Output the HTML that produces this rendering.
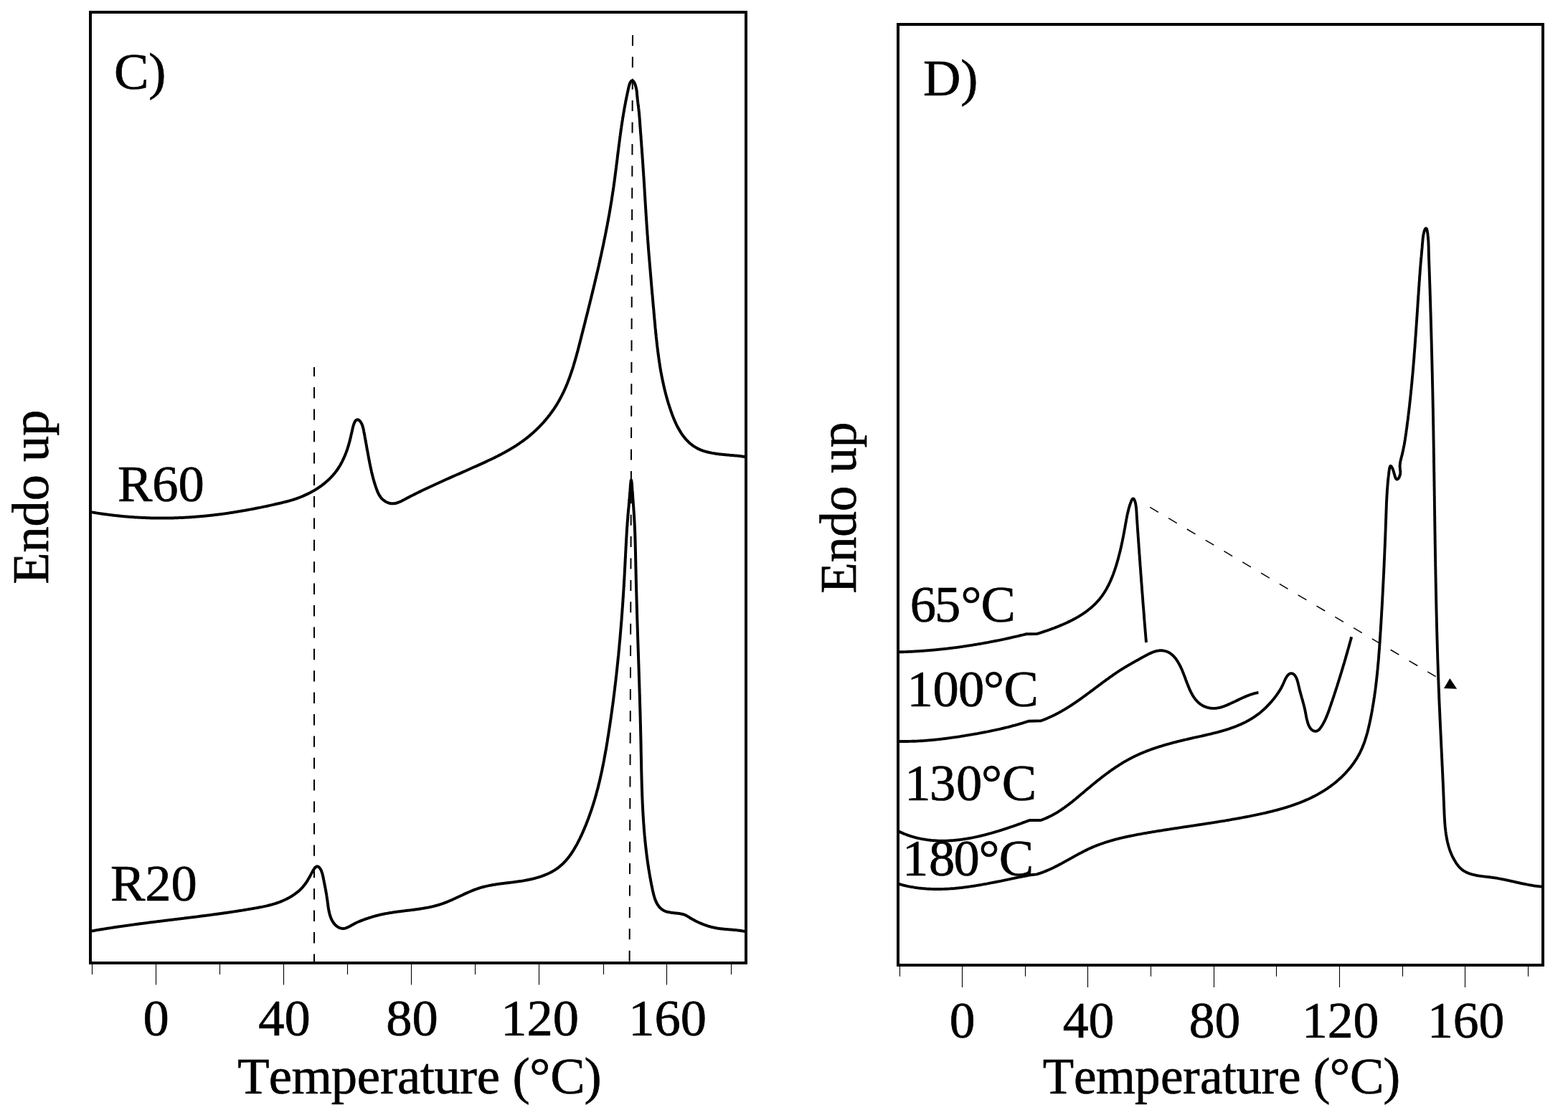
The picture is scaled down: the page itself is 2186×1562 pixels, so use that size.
<!DOCTYPE html>
<html><head><meta charset="utf-8"><title>DSC thermograms C) and D)</title>
<style>
html,body{margin:0;padding:0;background:#fff;}
svg{display:block;}
text{font-family:'Liberation Serif','Times New Roman',serif;fill:#000;stroke:#000;stroke-width:0.7px;font-kerning:none;}
</style></head>
<body>
<svg xmlns="http://www.w3.org/2000/svg" width="2186" height="1562" viewBox="0 0 2186 1562">
<rect width="2186" height="1562" fill="#fff"/>
<rect x='126' y='17' width='914' height='1326' fill='none' stroke='#000' stroke-width='4'/>
<rect x='1252' y='34' width='899' height='1312' fill='none' stroke='#000' stroke-width='4'/>
<path d='M128.5,1345V1359 M306.5,1345V1359 M484.5,1345V1359 M662.5,1345V1359 M841.5,1345V1359 M1019.5,1345V1359 M217.5,1345V1373.6 M395.5,1345V1373.6 M573.5,1345V1373.6 M751.5,1345V1373.6 M929.5,1345V1373.6 M1254.5,1348V1361.8 M1429.5,1348V1361.8 M1604.5,1348V1361.8 M1779.5,1348V1361.8 M1955.5,1348V1361.8 M2130.5,1348V1361.8 M1341.5,1348V1376.9 M1516.5,1348V1376.9 M1692.5,1348V1376.9 M1867.5,1348V1376.9 M2042.5,1348V1376.9' stroke='#000' stroke-width='1.1' fill='none'/>
<path d='M438,512V1341' stroke='#000' stroke-width='2' stroke-dasharray='15.4 15' stroke-dashoffset='2.4' fill='none'/>
<path d='M882,48.9L877.6,1341' stroke='#000' stroke-width='2' stroke-dasharray='15 15.4' fill='none'/>
<path d='M126.0,714.0L127.2,714.2 128.4,714.4 129.6,714.6 130.8,714.8 132.0,715.0 133.2,715.2 134.3,715.4 135.5,715.6 136.7,715.8 137.9,715.9 139.1,716.1 140.3,716.3 141.5,716.5 142.7,716.7 143.9,716.8 145.1,717.0 146.3,717.2 147.5,717.3 148.7,717.5 149.9,717.6 151.1,717.8 152.2,717.9 153.4,718.1 154.6,718.2 155.8,718.4 157.0,718.5 158.2,718.7 159.4,718.8 160.6,718.9 161.8,719.1 163.0,719.2 164.2,719.3 165.4,719.5 166.6,719.6 167.8,719.7 169.0,719.8 170.2,719.9 171.3,720.1 172.5,720.2 173.7,720.3 174.9,720.4 176.1,720.5 177.3,720.6 178.5,720.7 179.7,720.8 180.9,720.9 182.1,721.0 183.3,721.0 184.5,721.1 185.7,721.2 186.9,721.3 188.1,721.4 189.3,721.4 190.5,721.5 191.7,721.6 192.9,721.7 194.0,721.7 195.2,721.8 196.4,721.8 197.6,721.9 198.8,722.0 200.0,722.0 201.2,722.1 202.4,722.1 203.6,722.2 204.8,722.2 206.0,722.2 207.2,722.3 208.4,722.3 209.6,722.4 210.8,722.4 212.0,722.4 213.2,722.4 214.4,722.5 215.6,722.5 216.8,722.5 218.0,722.5 219.2,722.5 220.3,722.6 221.5,722.6 222.7,722.6 223.9,722.6 225.1,722.6 226.3,722.6 227.5,722.6 228.7,722.6 229.9,722.6 231.1,722.6 232.3,722.5 233.5,722.5 234.7,722.5 235.9,722.5 237.1,722.5 238.3,722.4 239.5,722.4 240.7,722.4 241.9,722.4 243.1,722.3 244.3,722.3 245.5,722.3 246.7,722.2 247.9,722.2 249.1,722.1 250.3,722.1 251.5,722.0 252.6,722.0 253.8,721.9 255.0,721.9 256.2,721.8 257.4,721.7 258.6,721.7 259.8,721.6 261.0,721.5 262.2,721.5 263.4,721.4 264.6,721.3 265.8,721.2 267.0,721.2 268.2,721.1 269.4,721.0 270.6,720.9 271.8,720.8 273.0,720.7 274.2,720.6 275.4,720.5 276.6,720.4 277.8,720.3 279.0,720.2 280.2,720.1 281.4,720.0 282.6,719.9 283.8,719.8 285.0,719.7 286.2,719.6 287.4,719.4 288.6,719.3 289.8,719.2 291.0,719.1 292.2,718.9 293.4,718.8 294.5,718.7 295.7,718.5 296.9,718.4 298.1,718.3 299.3,718.1 300.5,718.0 301.7,717.8 302.9,717.7 304.1,717.5 305.3,717.4 306.5,717.2 307.7,717.1 308.9,716.9 310.1,716.8 311.3,716.6 312.5,716.4 313.7,716.3 314.9,716.1 316.1,715.9 317.3,715.8 318.5,715.6 319.7,715.4 320.9,715.2 322.0,715.0 323.2,714.9 324.4,714.7 325.6,714.5 326.8,714.3 328.0,714.1 329.2,713.9 330.4,713.7 331.6,713.5 332.8,713.3 334.0,713.1 335.1,712.9 336.3,712.7 337.5,712.5 338.7,712.3 339.9,712.1 341.1,711.9 342.3,711.7 343.5,711.5 344.6,711.3 345.8,711.1 347.0,710.8 348.2,710.6 349.4,710.4 350.6,710.2 351.7,709.9 352.9,709.7 354.1,709.5 355.3,709.3 356.5,709.0 357.6,708.8 358.8,708.6 360.0,708.3 361.2,708.1 362.3,707.9 363.5,707.6 364.7,707.4 365.9,707.1 367.0,706.9 368.2,706.6 369.4,706.4 370.6,706.2 371.7,705.9 372.9,705.7 374.1,705.4 375.2,705.1 376.4,704.9 377.6,704.6 378.7,704.4 379.9,704.1 381.1,703.9 382.2,703.6 383.4,703.3 384.5,703.1 385.7,702.8 386.9,702.5 388.0,702.3 389.2,702.0 390.3,701.7 391.5,701.5 392.7,701.2 393.8,700.9 395.0,700.6 396.1,700.3 397.3,700.1 398.4,699.8 399.6,699.5 400.7,699.2 401.9,698.9 403.0,698.6 404.1,698.2 405.3,697.9 406.4,697.6 407.6,697.2 408.7,696.9 409.9,696.5 411.0,696.1 412.1,695.8 413.3,695.4 414.4,695.0 415.5,694.5 416.7,694.1 417.8,693.7 418.9,693.3 420.0,692.8 421.1,692.4 422.3,691.9 423.4,691.4 424.5,690.9 425.6,690.4 426.7,689.9 427.8,689.4 428.9,688.9 429.9,688.4 431.0,687.8 432.1,687.3 433.2,686.7 434.2,686.1 435.3,685.5 436.4,685.0 437.4,684.4 438.4,683.7 439.5,683.1 440.5,682.5 441.5,681.9 442.5,681.2 443.6,680.5 444.6,679.9 445.5,679.2 446.5,678.5 447.5,677.8 448.5,677.1 449.4,676.4 450.4,675.6 451.3,674.9 452.3,674.1 453.2,673.4 454.1,672.6 455.0,671.8 455.9,671.0 456.8,670.2 457.7,669.4 458.6,668.6 459.4,667.8 460.3,666.9 461.1,666.1 461.9,665.2 462.8,664.3 463.6,663.4 464.4,662.6 465.1,661.6 465.9,660.7 466.7,659.8 467.4,658.9 468.1,657.9 468.9,657.0 469.6,656.0 470.3,655.0 471.0,654.0 471.6,653.0 472.3,652.0 472.9,651.0 473.5,650.0 474.2,648.9 474.8,647.9 475.4,646.8 475.9,645.7 476.5,644.7 477.1,643.6 477.6,642.5 478.1,641.4 478.6,640.3 479.2,639.2 479.6,638.1 480.1,637.0 480.6,635.9 481.1,634.8 481.5,633.7 481.9,632.6 482.4,631.5 482.8,630.4 483.2,629.3 483.6,628.1 484.0,627.0 484.4,625.9 484.7,624.8 485.1,623.7 485.4,622.6 485.8,621.5 486.1,620.4 486.4,619.3 486.7,618.2 487.0,617.1 487.3,616.0 487.6,614.9 487.9,613.8 488.1,612.7 488.4,611.5 488.7,610.4 489.0,609.2 489.2,608.0 489.5,606.8 489.8,605.6 490.1,604.3 490.4,603.0 490.7,601.7 491.0,600.4 491.3,599.0 491.6,597.6 491.9,596.2 492.3,594.7 492.7,593.3 493.2,591.9 493.7,590.5 494.3,589.2 494.8,588.0 495.5,587.0 496.2,586.2 496.9,585.6 497.6,585.4 498.4,585.3 499.2,585.4 500.0,585.8 500.8,586.3 501.5,586.9 502.2,587.6 502.8,588.5 503.4,589.5 504.0,590.5 504.5,591.6 505.0,592.8 505.4,594.0 505.8,595.3 506.1,596.6 506.5,597.9 506.8,599.3 507.1,600.7 507.3,602.1 507.6,603.5 507.9,604.8 508.1,606.2 508.4,607.5 508.6,608.8 508.8,610.1 509.1,611.4 509.3,612.7 509.5,613.9 509.7,615.1 510.0,616.3 510.2,617.6 510.4,618.7 510.6,619.9 510.8,621.1 511.0,622.2 511.2,623.4 511.4,624.5 511.6,625.7 511.8,626.8 512.0,627.9 512.3,629.0 512.5,630.2 512.7,631.3 512.9,632.4 513.1,633.5 513.3,634.6 513.5,635.7 513.7,636.8 513.9,637.9 514.1,639.1 514.3,640.2 514.5,641.3 514.8,642.5 515.0,643.6 515.2,644.7 515.4,645.9 515.7,647.1 515.9,648.2 516.1,649.4 516.4,650.6 516.6,651.8 516.9,652.9 517.1,654.1 517.4,655.3 517.7,656.5 517.9,657.7 518.2,658.9 518.5,660.1 518.8,661.3 519.1,662.5 519.4,663.7 519.7,664.9 520.0,666.1 520.3,667.3 520.6,668.4 521.0,669.6 521.3,670.8 521.6,672.0 522.0,673.2 522.4,674.4 522.7,675.5 523.1,676.7 523.5,677.9 523.9,679.0 524.3,680.2 524.7,681.3 525.1,682.4 525.5,683.6 526.0,684.7 526.4,685.8 526.9,686.9 527.4,688.0 527.9,689.0 528.5,690.1 529.1,691.1 529.7,692.1 530.4,693.0 531.1,693.9 531.8,694.8 532.6,695.7 533.4,696.5 534.4,697.3 535.3,698.0 536.3,698.7 537.3,699.4 538.4,700.0 539.5,700.5 540.6,701.0 541.8,701.4 542.9,701.7 544.1,702.0 545.3,702.2 546.4,702.3 547.6,702.3 548.7,702.3 549.9,702.1 551.0,702.0 552.2,701.7 553.3,701.4 554.4,701.0 555.5,700.6 556.6,700.2 557.8,699.7 558.9,699.2 560.0,698.7 561.1,698.1 562.2,697.5 563.3,697.0 564.3,696.4 565.4,695.8 566.5,695.2 567.6,694.6 568.7,694.1 569.8,693.5 570.9,692.9 572.0,692.4 573.0,691.8 574.1,691.3 575.2,690.7 576.3,690.2 577.4,689.6 578.4,689.1 579.5,688.6 580.6,688.0 581.7,687.5 582.8,687.0 583.8,686.4 584.9,685.9 586.0,685.4 587.1,684.9 588.1,684.3 589.2,683.8 590.3,683.3 591.4,682.8 592.5,682.3 593.5,681.8 594.6,681.3 595.7,680.8 596.8,680.2 597.9,679.7 598.9,679.2 600.0,678.7 601.1,678.2 602.2,677.7 603.3,677.2 604.4,676.7 605.4,676.2 606.5,675.7 607.6,675.2 608.7,674.7 609.8,674.2 610.9,673.7 611.9,673.2 613.0,672.7 614.1,672.3 615.2,671.8 616.3,671.3 617.4,670.8 618.5,670.3 619.5,669.8 620.6,669.3 621.7,668.8 622.8,668.3 623.9,667.8 625.0,667.4 626.1,666.9 627.2,666.4 628.3,665.9 629.4,665.4 630.4,664.9 631.5,664.4 632.6,664.0 633.7,663.5 634.8,663.0 635.9,662.5 637.0,662.0 638.1,661.5 639.2,661.1 640.3,660.6 641.4,660.1 642.5,659.6 643.6,659.1 644.7,658.6 645.8,658.1 646.9,657.7 648.0,657.2 649.1,656.7 650.2,656.2 651.2,655.7 652.3,655.2 653.4,654.7 654.5,654.3 655.6,653.8 656.7,653.3 657.8,652.8 658.9,652.3 660.0,651.8 661.1,651.3 662.2,650.8 663.4,650.3 664.5,649.9 665.6,649.4 666.7,648.9 667.8,648.4 668.9,647.9 670.0,647.4 671.1,646.9 672.2,646.4 673.3,645.9 674.4,645.4 675.5,644.9 676.6,644.4 677.7,643.9 678.7,643.3 679.8,642.8 680.9,642.3 682.0,641.8 683.1,641.3 684.2,640.8 685.3,640.2 686.4,639.7 687.5,639.2 688.6,638.7 689.7,638.1 690.7,637.6 691.8,637.0 692.9,636.5 694.0,636.0 695.0,635.4 696.1,634.9 697.2,634.3 698.3,633.7 699.3,633.2 700.4,632.6 701.5,632.0 702.5,631.5 703.6,630.9 704.6,630.3 705.7,629.7 706.7,629.1 707.8,628.5 708.8,627.9 709.9,627.3 710.9,626.7 711.9,626.1 713.0,625.5 714.0,624.9 715.0,624.3 716.0,623.6 717.0,623.0 718.1,622.4 719.1,621.7 720.1,621.1 721.1,620.4 722.1,619.7 723.1,619.1 724.1,618.4 725.1,617.7 726.0,617.0 727.0,616.4 728.0,615.7 729.0,615.0 729.9,614.3 730.9,613.5 731.8,612.8 732.8,612.1 733.7,611.4 734.7,610.6 735.6,609.9 736.6,609.1 737.5,608.4 738.4,607.6 739.3,606.8 740.2,606.1 741.1,605.3 742.0,604.5 742.9,603.7 743.8,602.9 744.7,602.1 745.6,601.3 746.5,600.5 747.4,599.7 748.2,598.8 749.1,598.0 749.9,597.2 750.8,596.3 751.6,595.5 752.5,594.6 753.3,593.7 754.1,592.9 754.9,592.0 755.8,591.1 756.6,590.2 757.4,589.4 758.2,588.5 758.9,587.6 759.7,586.7 760.5,585.8 761.3,584.8 762.0,583.9 762.8,583.0 763.6,582.1 764.3,581.1 765.0,580.2 765.8,579.3 766.5,578.3 767.2,577.4 767.9,576.4 768.6,575.4 769.3,574.5 770.0,573.5 770.7,572.5 771.4,571.6 772.1,570.6 772.7,569.6 773.4,568.6 774.0,567.6 774.7,566.6 775.3,565.6 776.0,564.6 776.6,563.6 777.2,562.5 777.8,561.5 778.4,560.5 779.0,559.5 779.6,558.4 780.2,557.4 780.7,556.4 781.3,555.3 781.8,554.3 782.4,553.2 782.9,552.2 783.5,551.1 784.0,550.0 784.5,549.0 785.1,547.9 785.6,546.8 786.1,545.8 786.6,544.7 787.1,543.6 787.6,542.5 788.0,541.4 788.5,540.3 789.0,539.3 789.4,538.2 789.9,537.1 790.4,536.0 790.8,534.9 791.3,533.7 791.7,532.6 792.1,531.5 792.6,530.4 793.0,529.3 793.4,528.2 793.8,527.1 794.2,525.9 794.6,524.8 795.0,523.7 795.4,522.5 795.8,521.4 796.2,520.3 796.6,519.1 797.0,518.0 797.3,516.9 797.7,515.7 798.1,514.6 798.5,513.4 798.8,512.3 799.2,511.1 799.5,510.0 799.9,508.8 800.2,507.7 800.6,506.5 800.9,505.4 801.3,504.2 801.6,503.1 801.9,501.9 802.3,500.7 802.6,499.6 802.9,498.4 803.3,497.2 803.6,496.1 803.9,494.9 804.2,493.7 804.5,492.6 804.9,491.4 805.2,490.2 805.5,489.1 805.8,487.9 806.1,486.7 806.4,485.6 806.7,484.4 807.0,483.2 807.3,482.0 807.6,480.9 807.9,479.7 808.2,478.5 808.5,477.4 808.8,476.2 809.1,475.0 809.4,473.8 809.7,472.7 810.0,471.5 810.3,470.3 810.6,469.1 810.9,468.0 811.2,466.8 811.5,465.6 811.8,464.5 812.1,463.3 812.4,462.1 812.7,460.9 813.0,459.8 813.3,458.6 813.6,457.4 813.9,456.3 814.2,455.1 814.5,453.9 814.8,452.8 815.1,451.6 815.4,450.4 815.7,449.3 815.9,448.1 816.2,446.9 816.5,445.8 816.8,444.6 817.1,443.4 817.4,442.3 817.7,441.1 818.0,439.9 818.3,438.8 818.6,437.6 818.9,436.4 819.2,435.3 819.5,434.1 819.8,432.9 820.0,431.8 820.3,430.6 820.6,429.4 820.9,428.3 821.2,427.1 821.5,425.9 821.8,424.8 822.1,423.6 822.4,422.4 822.6,421.3 822.9,420.1 823.2,419.0 823.5,417.8 823.8,416.6 824.1,415.5 824.4,414.3 824.6,413.1 824.9,412.0 825.2,410.8 825.5,409.6 825.8,408.5 826.1,407.3 826.3,406.2 826.6,405.0 826.9,403.8 827.2,402.7 827.5,401.5 827.7,400.3 828.0,399.2 828.3,398.0 828.6,396.8 828.9,395.7 829.1,394.5 829.4,393.4 829.7,392.2 830.0,391.0 830.2,389.9 830.5,388.7 830.8,387.5 831.1,386.4 831.3,385.2 831.6,384.0 831.9,382.9 832.1,381.7 832.4,380.6 832.7,379.4 833.0,378.2 833.2,377.1 833.5,375.9 833.8,374.7 834.0,373.6 834.3,372.4 834.6,371.2 834.8,370.1 835.1,368.9 835.3,367.7 835.6,366.6 835.9,365.4 836.1,364.2 836.4,363.1 836.6,361.9 836.9,360.8 837.2,359.6 837.4,358.4 837.7,357.3 837.9,356.1 838.2,354.9 838.4,353.7 838.7,352.6 838.9,351.4 839.2,350.2 839.4,349.1 839.7,347.9 839.9,346.7 840.2,345.6 840.4,344.4 840.7,343.2 840.9,342.1 841.2,340.9 841.4,339.7 841.7,338.6 841.9,337.4 842.1,336.2 842.4,335.0 842.6,333.9 842.9,332.7 843.1,331.5 843.3,330.4 843.6,329.2 843.8,328.0 844.0,326.8 844.3,325.7 844.5,324.5 844.7,323.3 845.0,322.1 845.2,321.0 845.4,319.8 845.7,318.6 845.9,317.4 846.1,316.3 846.3,315.1 846.6,313.9 846.8,312.7 847.0,311.5 847.2,310.4 847.4,309.2 847.7,308.0 847.9,306.8 848.1,305.7 848.3,304.5 848.5,303.3 848.7,302.1 848.9,300.9 849.2,299.7 849.4,298.6 849.6,297.4 849.8,296.2 850.0,295.0 850.2,293.8 850.4,292.6 850.6,291.5 850.8,290.3 851.0,289.1 851.2,287.9 851.4,286.7 851.6,285.5 851.8,284.3 852.0,283.1 852.2,282.0 852.4,280.8 852.6,279.6 852.8,278.4 852.9,277.2 853.1,276.0 853.3,274.8 853.5,273.6 853.7,272.4 853.9,271.2 854.0,270.0 854.2,268.8 854.4,267.6 854.6,266.5 854.8,265.3 854.9,264.1 855.1,262.9 855.3,261.7 855.5,260.5 855.6,259.3 855.8,258.1 856.0,256.9 856.1,255.7 856.3,254.5 856.5,253.3 856.6,252.1 856.8,250.9 856.9,249.7 857.1,248.5 857.3,247.3 857.4,246.0 857.6,244.8 857.7,243.6 857.9,242.4 858.0,241.2 858.2,240.0 858.4,238.8 858.5,237.6 858.7,236.4 858.8,235.2 859.0,234.0 859.1,232.8 859.3,231.6 859.4,230.4 859.6,229.2 859.7,228.0 859.9,226.8 860.0,225.6 860.2,224.4 860.3,223.2 860.5,222.0 860.6,220.9 860.8,219.7 860.9,218.5 861.0,217.3 861.2,216.1 861.3,214.9 861.5,213.7 861.6,212.5 861.8,211.3 861.9,210.1 862.1,209.0 862.2,207.8 862.4,206.6 862.5,205.4 862.7,204.2 862.8,203.0 863.0,201.9 863.1,200.7 863.3,199.5 863.4,198.3 863.6,197.2 863.7,196.0 863.9,194.8 864.0,193.7 864.2,192.5 864.3,191.3 864.5,190.2 864.7,189.0 864.8,187.8 865.0,186.7 865.1,185.5 865.3,184.4 865.5,183.2 865.6,182.1 865.8,180.9 865.9,179.8 866.1,178.6 866.3,177.5 866.4,176.3 866.6,175.1 866.8,174.0 867.0,172.8 867.1,171.7 867.3,170.5 867.5,169.4 867.7,168.2 867.9,167.0 868.0,165.9 868.2,164.7 868.4,163.5 868.6,162.4 868.8,161.2 869.0,160.0 869.2,158.9 869.4,157.7 869.6,156.5 869.8,155.3 870.0,154.1 870.2,152.9 870.4,151.7 870.6,150.5 870.9,149.3 871.1,148.1 871.3,146.9 871.5,145.7 871.8,144.5 872.0,143.2 872.2,142.0 872.5,140.8 872.7,139.5 873.0,138.3 873.2,137.0 873.5,135.8 873.7,134.5 874.0,133.2 874.3,132.0 874.5,130.7 874.8,129.4 875.1,128.1 875.4,126.8 875.7,125.5 875.9,124.2 876.2,122.8 876.5,121.5 876.9,120.2 877.2,118.9 877.6,117.7 878.0,116.5 878.5,115.4 879.0,114.5 879.6,113.6 880.2,113.0 880.8,112.6 881.5,112.4 882.1,112.6 882.7,113.0 883.3,113.7 883.9,114.6 884.5,115.6 885.1,116.8 885.6,118.2 886.0,119.6 886.4,121.0 886.8,122.5 887.1,123.9 887.4,125.3 887.6,126.6 887.8,128.0 887.9,129.3 888.0,130.6 888.1,131.8 888.2,133.0 888.3,134.3 888.5,135.5 888.6,136.7 888.7,137.9 888.8,139.0 889.0,140.2 889.1,141.4 889.2,142.5 889.4,143.7 889.5,144.8 889.7,146.0 889.8,147.1 890.0,148.2 890.1,149.4 890.2,150.5 890.4,151.7 890.5,152.8 890.6,154.0 890.8,155.2 890.9,156.4 891.0,157.5 891.1,158.7 891.2,159.9 891.3,161.1 891.4,162.3 891.5,163.5 891.6,164.7 891.7,165.9 891.8,167.1 891.9,168.3 892.0,169.5 892.1,170.7 892.1,171.9 892.2,173.1 892.3,174.3 892.4,175.5 892.5,176.8 892.6,178.0 892.7,179.2 892.8,180.4 892.8,181.6 892.9,182.8 893.0,184.0 893.1,185.2 893.2,186.4 893.3,187.6 893.4,188.8 893.5,190.0 893.6,191.2 893.6,192.4 893.7,193.6 893.8,194.8 893.9,196.0 894.0,197.2 894.1,198.4 894.2,199.6 894.3,200.8 894.3,202.0 894.4,203.2 894.5,204.4 894.6,205.6 894.7,206.8 894.8,208.0 894.9,209.2 894.9,210.4 895.0,211.6 895.1,212.7 895.2,213.9 895.3,215.1 895.4,216.3 895.5,217.5 895.5,218.7 895.6,219.9 895.7,221.1 895.8,222.3 895.9,223.5 896.0,224.7 896.0,225.9 896.1,227.1 896.2,228.3 896.3,229.5 896.4,230.7 896.4,231.9 896.5,233.1 896.6,234.3 896.7,235.5 896.8,236.7 896.8,237.8 896.9,239.0 897.0,240.2 897.1,241.4 897.2,242.6 897.2,243.8 897.3,245.0 897.4,246.2 897.5,247.4 897.6,248.6 897.6,249.8 897.7,251.0 897.8,252.2 897.9,253.4 897.9,254.6 898.0,255.8 898.1,257.0 898.2,258.2 898.2,259.4 898.3,260.6 898.4,261.8 898.5,263.0 898.5,264.2 898.6,265.4 898.7,266.6 898.7,267.8 898.8,269.0 898.9,270.2 899.0,271.4 899.0,272.6 899.1,273.8 899.2,275.0 899.3,276.2 899.3,277.4 899.4,278.6 899.5,279.8 899.5,281.0 899.6,282.1 899.7,283.3 899.8,284.5 899.8,285.7 899.9,286.9 900.0,288.1 900.1,289.3 900.1,290.5 900.2,291.7 900.3,292.9 900.4,294.1 900.4,295.3 900.5,296.5 900.6,297.7 900.7,298.9 900.7,300.1 900.8,301.3 900.9,302.5 901.0,303.7 901.0,304.9 901.1,306.1 901.2,307.3 901.3,308.5 901.4,309.7 901.4,310.9 901.5,312.1 901.6,313.3 901.7,314.5 901.8,315.7 901.8,316.9 901.9,318.1 902.0,319.3 902.1,320.5 902.2,321.7 902.3,322.9 902.3,324.1 902.4,325.3 902.5,326.5 902.6,327.7 902.7,328.9 902.8,330.1 902.9,331.3 902.9,332.5 903.0,333.7 903.1,334.9 903.2,336.1 903.3,337.3 903.4,338.5 903.5,339.7 903.6,340.9 903.7,342.1 903.8,343.2 903.8,344.4 903.9,345.6 904.0,346.8 904.1,348.0 904.2,349.2 904.3,350.4 904.4,351.6 904.5,352.8 904.6,354.0 904.7,355.2 904.8,356.4 904.9,357.6 905.0,358.8 905.1,360.0 905.2,361.2 905.3,362.4 905.4,363.6 905.5,364.8 905.6,366.0 905.7,367.2 905.8,368.4 905.9,369.6 906.0,370.8 906.1,372.0 906.2,373.1 906.3,374.3 906.4,375.5 906.5,376.7 906.6,377.9 906.7,379.1 906.8,380.3 906.9,381.5 907.0,382.7 907.1,383.9 907.2,385.1 907.3,386.3 907.4,387.5 907.5,388.7 907.6,389.9 907.7,391.1 907.8,392.3 907.9,393.5 908.0,394.7 908.1,395.9 908.2,397.1 908.3,398.2 908.4,399.4 908.5,400.6 908.6,401.8 908.7,403.0 908.8,404.2 908.9,405.4 909.0,406.6 909.1,407.8 909.2,409.0 909.3,410.2 909.5,411.4 909.6,412.6 909.7,413.8 909.8,415.0 909.9,416.2 910.0,417.4 910.1,418.6 910.2,419.8 910.3,421.0 910.4,422.2 910.5,423.3 910.6,424.5 910.7,425.7 910.8,426.9 910.9,428.1 911.0,429.3 911.2,430.5 911.3,431.7 911.4,432.9 911.5,434.1 911.6,435.3 911.7,436.5 911.8,437.7 911.9,438.9 912.0,440.1 912.1,441.3 912.2,442.5 912.3,443.7 912.4,444.9 912.5,446.1 912.7,447.3 912.8,448.5 912.9,449.6 913.0,450.8 913.1,452.0 913.2,453.2 913.3,454.4 913.4,455.6 913.5,456.8 913.6,458.0 913.8,459.2 913.9,460.4 914.0,461.6 914.1,462.8 914.2,464.0 914.3,465.2 914.5,466.4 914.6,467.6 914.7,468.8 914.8,470.0 915.0,471.2 915.1,472.3 915.2,473.5 915.3,474.7 915.5,475.9 915.6,477.1 915.7,478.3 915.9,479.5 916.0,480.7 916.1,481.9 916.3,483.1 916.4,484.3 916.6,485.5 916.7,486.7 916.9,487.8 917.0,489.0 917.1,490.2 917.3,491.4 917.5,492.6 917.6,493.8 917.8,495.0 917.9,496.2 918.1,497.4 918.3,498.5 918.4,499.7 918.6,500.9 918.8,502.1 918.9,503.3 919.1,504.5 919.3,505.7 919.5,506.8 919.7,508.0 919.8,509.2 920.0,510.4 920.2,511.6 920.4,512.8 920.6,513.9 920.8,515.1 921.0,516.3 921.2,517.5 921.4,518.7 921.7,519.9 921.9,521.0 922.1,522.2 922.3,523.4 922.5,524.6 922.8,525.7 923.0,526.9 923.2,528.1 923.5,529.3 923.7,530.5 924.0,531.6 924.2,532.8 924.5,534.0 924.7,535.1 925.0,536.3 925.2,537.5 925.5,538.7 925.8,539.8 926.0,541.0 926.3,542.2 926.6,543.3 926.9,544.5 927.2,545.7 927.5,546.9 927.8,548.0 928.1,549.2 928.4,550.4 928.7,551.5 929.0,552.7 929.3,553.8 929.6,555.0 930.0,556.2 930.3,557.3 930.6,558.5 931.0,559.7 931.3,560.8 931.7,562.0 932.0,563.1 932.4,564.3 932.8,565.4 933.1,566.6 933.5,567.8 933.9,568.9 934.3,570.1 934.7,571.2 935.1,572.4 935.4,573.5 935.9,574.7 936.3,575.8 936.7,577.0 937.1,578.1 937.5,579.2 938.0,580.4 938.4,581.5 938.9,582.6 939.3,583.8 939.8,584.9 940.2,586.0 940.7,587.1 941.2,588.2 941.7,589.3 942.2,590.4 942.7,591.5 943.2,592.6 943.8,593.7 944.3,594.7 944.9,595.8 945.4,596.8 946.0,597.9 946.6,598.9 947.2,599.9 947.8,600.9 948.4,601.9 949.0,602.9 949.6,603.9 950.3,604.9 950.9,605.8 951.6,606.8 952.3,607.7 953.0,608.6 953.7,609.6 954.4,610.4 955.1,611.3 955.9,612.2 956.6,613.1 957.4,613.9 958.2,614.7 959.0,615.5 959.8,616.3 960.6,617.1 961.5,617.9 962.3,618.6 963.2,619.3 964.1,620.0 965.0,620.7 965.9,621.4 966.9,622.1 967.8,622.7 968.8,623.3 969.8,623.9 970.8,624.5 971.8,625.1 972.9,625.6 973.9,626.1 975.0,626.6 976.1,627.1 977.2,627.6 978.3,628.0 979.5,628.4 980.6,628.8 981.8,629.2 983.0,629.5 984.2,629.9 985.4,630.2 986.6,630.5 987.8,630.8 989.1,631.1 990.3,631.4 991.6,631.6 992.9,631.9 994.1,632.1 995.4,632.3 996.7,632.5 998.0,632.7 999.3,632.9 1000.6,633.1 1001.9,633.2 1003.2,633.4 1004.5,633.5 1005.8,633.7 1007.1,633.8 1008.4,634.0 1009.7,634.1 1011.0,634.2 1012.2,634.3 1013.5,634.4 1014.8,634.5 1016.1,634.6 1017.3,634.8 1018.6,634.9 1019.8,635.0 1021.1,635.1 1022.3,635.2 1023.5,635.3 1024.7,635.4 1025.9,635.5 1027.1,635.6 1028.3,635.7 1029.4,635.8 1030.6,636.0 1031.7,636.1 1032.8,636.2 1033.9,636.4 1035.0,636.5 1036.0,636.7 1037.0,636.8 1038.0,637.0 1039.0,637.2 1040.0,637.4' stroke='#000' stroke-width='4' fill='none' stroke-linejoin='round'/>
<path d='M126.0,1298.8L127.2,1298.6 128.4,1298.4 129.5,1298.2 130.7,1298.0 131.9,1297.8 133.1,1297.6 134.3,1297.3 135.5,1297.1 136.6,1296.9 137.8,1296.7 139.0,1296.5 140.2,1296.3 141.4,1296.2 142.5,1296.0 143.7,1295.8 144.9,1295.6 146.1,1295.4 147.3,1295.2 148.5,1295.0 149.7,1294.8 150.8,1294.6 152.0,1294.4 153.2,1294.3 154.4,1294.1 155.6,1293.9 156.8,1293.7 158.0,1293.5 159.1,1293.3 160.3,1293.2 161.5,1293.0 162.7,1292.8 163.9,1292.6 165.1,1292.5 166.3,1292.3 167.5,1292.1 168.6,1291.9 169.8,1291.8 171.0,1291.6 172.2,1291.4 173.4,1291.3 174.6,1291.1 175.8,1290.9 177.0,1290.8 178.2,1290.6 179.3,1290.4 180.5,1290.3 181.7,1290.1 182.9,1289.9 184.1,1289.8 185.3,1289.6 186.5,1289.4 187.7,1289.3 188.9,1289.1 190.1,1289.0 191.3,1288.8 192.4,1288.7 193.6,1288.5 194.8,1288.3 196.0,1288.2 197.2,1288.0 198.4,1287.9 199.6,1287.7 200.8,1287.6 202.0,1287.4 203.2,1287.3 204.4,1287.1 205.6,1286.9 206.7,1286.8 207.9,1286.6 209.1,1286.5 210.3,1286.3 211.5,1286.2 212.7,1286.0 213.9,1285.9 215.1,1285.7 216.3,1285.6 217.5,1285.4 218.7,1285.3 219.9,1285.1 221.1,1285.0 222.3,1284.9 223.4,1284.7 224.6,1284.6 225.8,1284.4 227.0,1284.3 228.2,1284.1 229.4,1284.0 230.6,1283.8 231.8,1283.7 233.0,1283.5 234.2,1283.4 235.4,1283.2 236.6,1283.1 237.8,1283.0 239.0,1282.8 240.2,1282.7 241.3,1282.5 242.5,1282.4 243.7,1282.2 244.9,1282.1 246.1,1281.9 247.3,1281.8 248.5,1281.6 249.7,1281.5 250.9,1281.4 252.1,1281.2 253.3,1281.1 254.5,1280.9 255.7,1280.8 256.9,1280.6 258.1,1280.5 259.2,1280.3 260.4,1280.2 261.6,1280.0 262.8,1279.9 264.0,1279.7 265.2,1279.6 266.4,1279.4 267.6,1279.3 268.8,1279.2 270.0,1279.0 271.2,1278.9 272.4,1278.7 273.6,1278.6 274.8,1278.4 275.9,1278.3 277.1,1278.1 278.3,1278.0 279.5,1277.8 280.7,1277.6 281.9,1277.5 283.1,1277.3 284.3,1277.2 285.5,1277.0 286.7,1276.9 287.9,1276.7 289.1,1276.6 290.2,1276.4 291.4,1276.3 292.6,1276.1 293.8,1275.9 295.0,1275.8 296.2,1275.6 297.4,1275.5 298.6,1275.3 299.8,1275.1 301.0,1275.0 302.1,1274.8 303.3,1274.7 304.5,1274.5 305.7,1274.3 306.9,1274.2 308.1,1274.0 309.3,1273.8 310.5,1273.7 311.7,1273.5 312.8,1273.3 314.0,1273.2 315.2,1273.0 316.4,1272.8 317.6,1272.7 318.8,1272.5 320.0,1272.3 321.1,1272.1 322.3,1272.0 323.5,1271.8 324.7,1271.6 325.9,1271.4 327.1,1271.2 328.3,1271.1 329.4,1270.9 330.6,1270.7 331.8,1270.5 333.0,1270.3 334.2,1270.1 335.4,1270.0 336.6,1269.8 337.7,1269.6 338.9,1269.4 340.1,1269.2 341.3,1269.0 342.5,1268.8 343.6,1268.6 344.8,1268.4 346.0,1268.2 347.2,1268.0 348.4,1267.8 349.6,1267.6 350.7,1267.4 351.9,1267.2 353.1,1267.0 354.3,1266.8 355.5,1266.6 356.6,1266.4 357.8,1266.2 359.0,1266.0 360.2,1265.8 361.3,1265.5 362.5,1265.3 363.7,1265.1 364.9,1264.9 366.0,1264.6 367.2,1264.4 368.4,1264.1 369.5,1263.9 370.7,1263.6 371.9,1263.4 373.0,1263.1 374.2,1262.8 375.4,1262.5 376.5,1262.2 377.7,1261.9 378.8,1261.6 380.0,1261.3 381.1,1260.9 382.3,1260.6 383.4,1260.2 384.6,1259.9 385.7,1259.5 386.8,1259.1 388.0,1258.7 389.1,1258.3 390.2,1257.9 391.4,1257.4 392.5,1257.0 393.6,1256.5 394.7,1256.0 395.8,1255.5 396.9,1255.0 398.0,1254.5 399.1,1254.0 400.2,1253.4 401.3,1252.9 402.4,1252.3 403.5,1251.7 404.5,1251.1 405.6,1250.5 406.7,1249.8 407.7,1249.2 408.7,1248.5 409.7,1247.8 410.7,1247.1 411.7,1246.4 412.7,1245.7 413.7,1245.0 414.6,1244.2 415.5,1243.5 416.4,1242.7 417.3,1241.9 418.2,1241.1 419.0,1240.3 419.8,1239.5 420.6,1238.7 421.4,1237.8 422.2,1237.0 422.9,1236.1 423.6,1235.2 424.3,1234.4 425.0,1233.4 425.7,1232.5 426.4,1231.6 427.0,1230.6 427.7,1229.6 428.3,1228.6 429.0,1227.6 429.6,1226.5 430.2,1225.4 430.9,1224.3 431.5,1223.2 432.2,1222.0 432.8,1220.9 433.5,1219.6 434.1,1218.4 434.8,1217.1 435.5,1215.9 436.2,1214.6 436.9,1213.4 437.6,1212.3 438.3,1211.3 439.0,1210.4 439.7,1209.6 440.5,1209.0 441.2,1208.6 442.0,1208.3 442.7,1208.4 443.5,1208.6 444.2,1209.0 445.0,1209.7 445.7,1210.5 446.3,1211.4 447.0,1212.4 447.6,1213.6 448.1,1214.8 448.6,1216.1 449.0,1217.4 449.4,1218.7 449.8,1220.1 450.1,1221.5 450.4,1222.8 450.7,1224.2 450.9,1225.5 451.2,1226.9 451.5,1228.1 451.7,1229.4 452.0,1230.7 452.2,1231.9 452.4,1233.1 452.7,1234.3 452.9,1235.4 453.1,1236.6 453.4,1237.7 453.6,1238.9 453.8,1240.0 454.0,1241.1 454.2,1242.2 454.4,1243.3 454.6,1244.4 454.8,1245.6 455.0,1246.7 455.2,1247.8 455.4,1248.9 455.5,1250.0 455.7,1251.1 455.9,1252.3 456.0,1253.4 456.2,1254.6 456.4,1255.8 456.5,1256.9 456.7,1258.2 456.8,1259.4 457.0,1260.6 457.2,1261.8 457.3,1263.1 457.5,1264.3 457.7,1265.6 457.9,1266.8 458.1,1268.1 458.3,1269.3 458.6,1270.6 458.8,1271.8 459.1,1273.0 459.4,1274.3 459.8,1275.5 460.1,1276.7 460.5,1277.8 460.9,1279.0 461.3,1280.2 461.8,1281.3 462.3,1282.4 462.8,1283.5 463.4,1284.5 464.0,1285.6 464.7,1286.5 465.4,1287.5 466.1,1288.4 466.9,1289.3 467.7,1290.2 468.6,1291.0 469.4,1291.7 470.4,1292.4 471.3,1293.0 472.3,1293.5 473.3,1294.0 474.3,1294.3 475.3,1294.6 476.4,1294.8 477.5,1294.9 478.6,1294.9 479.8,1294.9 480.9,1294.7 482.1,1294.3 483.2,1293.9 484.4,1293.4 485.6,1292.9 486.8,1292.3 488.0,1291.7 489.2,1291.0 490.4,1290.3 491.5,1289.7 492.7,1289.0 493.8,1288.4 494.9,1287.9 496.0,1287.3 497.1,1286.8 498.2,1286.3 499.3,1285.8 500.4,1285.3 501.5,1284.9 502.5,1284.4 503.6,1284.0 504.7,1283.6 505.8,1283.2 506.9,1282.7 508.0,1282.3 509.1,1281.9 510.2,1281.5 511.3,1281.2 512.4,1280.8 513.6,1280.4 514.7,1280.0 515.8,1279.7 517.0,1279.3 518.1,1278.9 519.3,1278.6 520.4,1278.3 521.6,1277.9 522.7,1277.6 523.9,1277.3 525.1,1277.0 526.3,1276.7 527.4,1276.4 528.6,1276.1 529.8,1275.8 531.0,1275.5 532.1,1275.3 533.3,1275.0 534.5,1274.8 535.7,1274.5 536.9,1274.3 538.1,1274.1 539.2,1273.9 540.4,1273.7 541.6,1273.4 542.8,1273.2 544.0,1273.0 545.2,1272.9 546.4,1272.7 547.6,1272.5 548.8,1272.3 550.0,1272.1 551.2,1272.0 552.4,1271.8 553.6,1271.6 554.8,1271.5 556.0,1271.3 557.2,1271.2 558.4,1271.0 559.5,1270.9 560.7,1270.7 561.9,1270.6 563.1,1270.4 564.3,1270.3 565.5,1270.1 566.7,1270.0 567.9,1269.8 569.1,1269.7 570.3,1269.6 571.5,1269.4 572.7,1269.3 573.9,1269.1 575.1,1269.0 576.3,1268.8 577.5,1268.7 578.7,1268.5 579.9,1268.3 581.0,1268.2 582.2,1268.0 583.4,1267.8 584.6,1267.7 585.8,1267.5 587.0,1267.3 588.2,1267.1 589.3,1266.9 590.5,1266.7 591.7,1266.5 592.9,1266.3 594.0,1266.1 595.2,1265.9 596.4,1265.7 597.6,1265.4 598.7,1265.2 599.9,1264.9 601.1,1264.7 602.2,1264.4 603.4,1264.2 604.5,1263.9 605.7,1263.6 606.8,1263.3 608.0,1263.0 609.1,1262.7 610.3,1262.3 611.4,1262.0 612.6,1261.7 613.7,1261.3 614.8,1260.9 616.0,1260.6 617.1,1260.2 618.2,1259.8 619.3,1259.4 620.5,1258.9 621.6,1258.5 622.7,1258.1 623.8,1257.6 624.9,1257.2 626.0,1256.7 627.1,1256.2 628.2,1255.8 629.3,1255.3 630.5,1254.8 631.6,1254.3 632.7,1253.8 633.8,1253.3 634.9,1252.8 635.9,1252.3 637.0,1251.8 638.1,1251.2 639.2,1250.7 640.3,1250.2 641.4,1249.7 642.5,1249.2 643.6,1248.7 644.7,1248.2 645.8,1247.7 646.9,1247.1 648.0,1246.6 649.1,1246.1 650.2,1245.6 651.3,1245.1 652.4,1244.7 653.5,1244.2 654.6,1243.7 655.7,1243.2 656.8,1242.8 657.9,1242.3 659.0,1241.9 660.1,1241.4 661.2,1241.0 662.3,1240.6 663.4,1240.2 664.5,1239.8 665.7,1239.4 666.8,1239.0 667.9,1238.6 669.0,1238.3 670.2,1237.9 671.3,1237.6 672.4,1237.3 673.6,1237.0 674.7,1236.7 675.8,1236.4 677.0,1236.1 678.1,1235.9 679.3,1235.6 680.4,1235.4 681.6,1235.1 682.7,1234.9 683.9,1234.7 685.0,1234.5 686.2,1234.2 687.3,1234.0 688.5,1233.9 689.7,1233.7 690.8,1233.5 692.0,1233.3 693.2,1233.1 694.4,1233.0 695.5,1232.8 696.7,1232.6 697.9,1232.5 699.1,1232.3 700.3,1232.2 701.4,1232.0 702.6,1231.9 703.8,1231.7 705.0,1231.6 706.2,1231.5 707.4,1231.3 708.6,1231.2 709.8,1231.0 711.0,1230.9 712.2,1230.7 713.4,1230.6 714.6,1230.4 715.8,1230.3 717.0,1230.1 718.2,1230.0 719.4,1229.8 720.6,1229.6 721.8,1229.5 723.0,1229.3 724.3,1229.1 725.5,1228.9 726.7,1228.8 727.9,1228.6 729.1,1228.4 730.3,1228.2 731.6,1227.9 732.8,1227.7 734.0,1227.5 735.2,1227.3 736.4,1227.0 737.6,1226.8 738.9,1226.5 740.1,1226.2 741.3,1226.0 742.5,1225.7 743.7,1225.4 744.9,1225.1 746.1,1224.8 747.3,1224.4 748.5,1224.1 749.7,1223.7 750.8,1223.4 752.0,1223.0 753.2,1222.7 754.3,1222.3 755.5,1221.9 756.6,1221.5 757.8,1221.0 758.9,1220.6 760.0,1220.2 761.2,1219.7 762.3,1219.2 763.4,1218.7 764.5,1218.2 765.6,1217.7 766.6,1217.2 767.7,1216.7 768.7,1216.1 769.8,1215.6 770.8,1215.0 771.8,1214.4 772.8,1213.8 773.8,1213.2 774.8,1212.5 775.8,1211.9 776.7,1211.2 777.7,1210.5 778.6,1209.8 779.5,1209.1 780.4,1208.4 781.3,1207.6 782.2,1206.8 783.1,1206.1 783.9,1205.3 784.8,1204.5 785.6,1203.7 786.4,1202.8 787.2,1202.0 788.0,1201.1 788.8,1200.3 789.6,1199.4 790.3,1198.5 791.1,1197.6 791.8,1196.7 792.6,1195.8 793.3,1194.8 794.0,1193.9 794.7,1192.9 795.4,1192.0 796.1,1191.0 796.8,1190.0 797.4,1189.0 798.1,1188.0 798.7,1187.0 799.4,1186.0 800.0,1185.0 800.6,1184.0 801.2,1182.9 801.8,1181.9 802.4,1180.8 803.0,1179.8 803.6,1178.7 804.2,1177.7 804.8,1176.6 805.3,1175.5 805.9,1174.5 806.4,1173.4 807.0,1172.3 807.5,1171.2 808.1,1170.1 808.6,1169.0 809.1,1167.9 809.6,1166.8 810.2,1165.7 810.7,1164.6 811.2,1163.5 811.7,1162.4 812.2,1161.3 812.7,1160.2 813.2,1159.1 813.6,1158.0 814.1,1156.9 814.6,1155.8 815.1,1154.6 815.5,1153.5 816.0,1152.4 816.5,1151.3 816.9,1150.2 817.4,1149.1 817.8,1147.9 818.2,1146.8 818.7,1145.7 819.1,1144.6 819.5,1143.4 820.0,1142.3 820.4,1141.2 820.8,1140.0 821.2,1138.9 821.6,1137.8 822.0,1136.7 822.4,1135.5 822.8,1134.4 823.2,1133.2 823.6,1132.1 824.0,1131.0 824.4,1129.8 824.8,1128.7 825.2,1127.6 825.5,1126.4 825.9,1125.3 826.3,1124.1 826.6,1123.0 827.0,1121.8 827.4,1120.7 827.7,1119.5 828.1,1118.4 828.4,1117.2 828.8,1116.1 829.1,1114.9 829.4,1113.8 829.8,1112.6 830.1,1111.5 830.4,1110.3 830.8,1109.2 831.1,1108.0 831.4,1106.8 831.7,1105.7 832.0,1104.5 832.3,1103.4 832.6,1102.2 833.0,1101.0 833.3,1099.9 833.6,1098.7 833.9,1097.6 834.1,1096.4 834.4,1095.2 834.7,1094.1 835.0,1092.9 835.3,1091.7 835.6,1090.6 835.9,1089.4 836.1,1088.2 836.4,1087.1 836.7,1085.9 836.9,1084.7 837.2,1083.5 837.5,1082.4 837.7,1081.2 838.0,1080.0 838.3,1078.9 838.5,1077.7 838.8,1076.5 839.0,1075.3 839.3,1074.2 839.5,1073.0 839.7,1071.8 840.0,1070.6 840.2,1069.5 840.5,1068.3 840.7,1067.1 840.9,1065.9 841.2,1064.7 841.4,1063.6 841.6,1062.4 841.9,1061.2 842.1,1060.0 842.3,1058.8 842.5,1057.7 842.7,1056.5 843.0,1055.3 843.2,1054.1 843.4,1052.9 843.6,1051.7 843.8,1050.6 844.0,1049.4 844.2,1048.2 844.5,1047.0 844.7,1045.8 844.9,1044.6 845.1,1043.5 845.3,1042.3 845.5,1041.1 845.7,1039.9 845.9,1038.7 846.1,1037.5 846.3,1036.4 846.5,1035.2 846.7,1034.0 846.8,1032.8 847.0,1031.6 847.2,1030.4 847.4,1029.2 847.6,1028.1 847.8,1026.9 848.0,1025.7 848.2,1024.5 848.4,1023.3 848.5,1022.1 848.7,1020.9 848.9,1019.7 849.1,1018.6 849.3,1017.4 849.4,1016.2 849.6,1015.0 849.8,1013.8 850.0,1012.6 850.2,1011.4 850.3,1010.3 850.5,1009.1 850.7,1007.9 850.9,1006.7 851.0,1005.5 851.2,1004.3 851.4,1003.1 851.6,1001.9 851.7,1000.8 851.9,999.6 852.1,998.4 852.2,997.2 852.4,996.0 852.6,994.8 852.7,993.6 852.9,992.5 853.1,991.3 853.2,990.1 853.4,988.9 853.5,987.7 853.7,986.5 853.9,985.3 854.0,984.1 854.2,983.0 854.3,981.8 854.5,980.6 854.7,979.4 854.8,978.2 855.0,977.0 855.1,975.8 855.3,974.6 855.4,973.5 855.6,972.3 855.7,971.1 855.9,969.9 856.0,968.7 856.2,967.5 856.3,966.3 856.5,965.1 856.6,963.9 856.8,962.8 856.9,961.6 857.1,960.4 857.2,959.2 857.3,958.0 857.5,956.8 857.6,955.6 857.8,954.4 857.9,953.2 858.0,952.1 858.2,950.9 858.3,949.7 858.5,948.5 858.6,947.3 858.7,946.1 858.9,944.9 859.0,943.7 859.1,942.5 859.3,941.3 859.4,940.2 859.5,939.0 859.7,937.8 859.8,936.6 859.9,935.4 860.1,934.2 860.2,933.0 860.3,931.8 860.4,930.6 860.6,929.4 860.7,928.3 860.8,927.1 860.9,925.9 861.1,924.7 861.2,923.5 861.3,922.3 861.4,921.1 861.6,919.9 861.7,918.7 861.8,917.5 861.9,916.3 862.0,915.1 862.2,914.0 862.3,912.8 862.4,911.6 862.5,910.4 862.6,909.2 862.7,908.0 862.8,906.8 863.0,905.6 863.1,904.4 863.2,903.2 863.3,902.0 863.4,900.8 863.5,899.6 863.6,898.4 863.7,897.2 863.8,896.1 864.0,894.9 864.1,893.7 864.2,892.5 864.3,891.3 864.4,890.1 864.5,888.9 864.6,887.7 864.7,886.5 864.8,885.3 864.9,884.1 865.0,882.9 865.1,881.7 865.2,880.5 865.3,879.3 865.4,878.1 865.5,876.9 865.6,875.7 865.7,874.5 865.8,873.3 865.9,872.1 866.0,870.9 866.1,869.7 866.2,868.5 866.3,867.3 866.4,866.2 866.5,865.0 866.6,863.8 866.7,862.6 866.7,861.4 866.8,860.2 866.9,859.0 867.0,857.8 867.1,856.6 867.2,855.4 867.3,854.2 867.4,853.0 867.5,851.8 867.5,850.6 867.6,849.4 867.7,848.2 867.8,847.0 867.9,845.8 868.0,844.6 868.1,843.4 868.1,842.2 868.2,841.0 868.3,839.8 868.4,838.6 868.5,837.4 868.5,836.2 868.6,835.0 868.7,833.7 868.8,832.5 868.9,831.3 868.9,830.1 869.0,828.9 869.1,827.7 869.2,826.5 869.2,825.3 869.3,824.1 869.4,822.9 869.5,821.7 869.5,820.5 869.6,819.3 869.7,818.1 869.8,816.9 869.8,815.7 869.9,814.5 870.0,813.3 870.0,812.1 870.1,810.9 870.2,809.7 870.3,808.5 870.3,807.2 870.4,806.0 870.5,804.8 870.5,803.6 870.6,802.4 870.7,801.2 870.7,800.0 870.8,798.8 870.9,797.6 870.9,796.4 871.0,795.2 871.0,794.0 871.1,792.8 871.2,791.5 871.2,790.3 871.3,789.1 871.4,787.9 871.4,786.7 871.5,785.5 871.5,784.3 871.6,783.1 871.7,781.9 871.7,780.7 871.8,779.5 871.8,778.2 871.9,777.0 872.0,775.8 872.0,774.6 872.1,773.4 872.1,772.2 872.2,771.0 872.3,769.8 872.3,768.6 872.4,767.4 872.5,766.2 872.5,765.0 872.6,763.8 872.6,762.6 872.7,761.4 872.8,760.2 872.8,759.0 872.9,757.8 873.0,756.6 873.0,755.4 873.1,754.2 873.1,753.0 873.2,751.8 873.3,750.6 873.4,749.4 873.4,748.3 873.5,747.1 873.6,745.9 873.6,744.7 873.7,743.5 873.8,742.3 873.8,741.2 873.9,740.0 874.0,738.8 874.1,737.6 874.1,736.5 874.2,735.3 874.3,734.1 874.4,733.0 874.5,731.8 874.5,730.6 874.6,729.5 874.7,728.3 874.8,727.1 874.9,726.0 875.0,724.8 875.1,723.7 875.2,722.5 875.3,721.4 875.3,720.2 875.4,719.1 875.5,718.0 875.6,716.8 875.7,715.7 875.8,714.5 875.9,713.3 876.0,712.2 876.1,711.0 876.2,709.8 876.4,708.7 876.5,707.5 876.6,706.3 876.7,705.1 876.8,703.8 876.9,702.6 877.0,701.3 877.1,700.1 877.2,698.8 877.3,697.5 877.4,696.2 877.6,694.8 877.7,693.5 877.8,692.1 877.9,690.7 878.0,689.3 878.1,687.9 878.2,686.4 878.4,684.9 878.5,683.4 878.6,681.9 878.7,680.3 878.8,678.8 878.9,677.3 879.0,675.9 879.2,674.6 879.3,673.3 879.4,672.2 879.5,671.3 879.6,670.5 879.8,670.0 879.9,669.6 880.0,669.5 880.1,669.7 880.2,670.1 880.4,670.8 880.5,671.6 880.6,672.6 880.7,673.8 880.9,675.0 881.0,676.4 881.1,677.9 881.2,679.4 881.3,680.9 881.4,682.5 881.5,684.0 881.7,685.5 881.8,686.9 881.9,688.3 882.0,689.7 882.1,691.0 882.1,692.3 882.2,693.6 882.3,694.8 882.4,696.0 882.5,697.3 882.6,698.5 882.7,699.7 882.8,700.9 882.8,702.0 882.9,703.2 883.0,704.4 883.1,705.6 883.2,706.8 883.3,708.0 883.4,709.2 883.4,710.3 883.5,711.5 883.6,712.7 883.7,713.9 883.8,715.1 883.8,716.3 883.9,717.5 884.0,718.7 884.1,719.9 884.1,721.0 884.2,722.2 884.3,723.4 884.3,724.6 884.4,725.8 884.5,727.0 884.5,728.2 884.6,729.4 884.7,730.6 884.7,731.8 884.8,733.0 884.8,734.2 884.9,735.4 884.9,736.5 885.0,737.7 885.0,738.9 885.1,740.1 885.1,741.3 885.2,742.5 885.2,743.7 885.3,744.9 885.3,746.1 885.3,747.3 885.4,748.5 885.4,749.7 885.5,750.9 885.5,752.1 885.5,753.3 885.6,754.5 885.6,755.7 885.6,756.9 885.7,758.1 885.7,759.3 885.7,760.5 885.8,761.7 885.8,762.9 885.8,764.1 885.8,765.3 885.9,766.5 885.9,767.7 885.9,768.9 886.0,770.1 886.0,771.3 886.0,772.5 886.0,773.7 886.1,774.9 886.1,776.1 886.1,777.3 886.1,778.5 886.2,779.7 886.2,780.9 886.2,782.1 886.2,783.3 886.3,784.5 886.3,785.7 886.3,786.9 886.3,788.1 886.4,789.3 886.4,790.5 886.4,791.7 886.4,792.9 886.5,794.1 886.5,795.3 886.5,796.5 886.5,797.7 886.6,798.9 886.6,800.1 886.6,801.3 886.7,802.5 886.7,803.7 886.7,804.9 886.7,806.1 886.8,807.3 886.8,808.5 886.8,809.7 886.9,810.9 886.9,812.1 886.9,813.3 886.9,814.5 887.0,815.7 887.0,816.9 887.0,818.1 887.1,819.3 887.1,820.5 887.1,821.7 887.2,822.9 887.2,824.1 887.2,825.3 887.3,826.5 887.3,827.7 887.3,828.9 887.4,830.1 887.4,831.3 887.4,832.5 887.5,833.7 887.5,834.9 887.5,836.1 887.6,837.3 887.6,838.5 887.6,839.7 887.7,840.9 887.7,842.1 887.7,843.3 887.8,844.5 887.8,845.7 887.8,846.9 887.9,848.1 887.9,849.3 887.9,850.5 888.0,851.7 888.0,852.9 888.0,854.1 888.1,855.3 888.1,856.5 888.2,857.7 888.2,858.9 888.2,860.1 888.3,861.3 888.3,862.5 888.3,863.7 888.4,864.9 888.4,866.1 888.5,867.4 888.5,868.6 888.5,869.8 888.6,871.0 888.6,872.2 888.6,873.4 888.7,874.6 888.7,875.8 888.8,877.0 888.8,878.2 888.8,879.4 888.9,880.6 888.9,881.8 889.0,883.0 889.0,884.2 889.0,885.4 889.1,886.6 889.1,887.8 889.1,889.0 889.2,890.2 889.2,891.4 889.3,892.6 889.3,893.8 889.3,895.0 889.4,896.2 889.4,897.4 889.5,898.6 889.5,899.8 889.5,901.0 889.6,902.2 889.6,903.4 889.7,904.6 889.7,905.8 889.7,907.0 889.8,908.2 889.8,909.4 889.9,910.6 889.9,911.8 889.9,913.0 890.0,914.2 890.0,915.4 890.1,916.6 890.1,917.8 890.1,919.0 890.2,920.2 890.2,921.4 890.3,922.6 890.3,923.8 890.3,925.0 890.4,926.2 890.4,927.4 890.5,928.6 890.5,929.8 890.5,931.0 890.6,932.2 890.6,933.4 890.7,934.6 890.7,935.8 890.7,937.0 890.8,938.2 890.8,939.4 890.8,940.6 890.9,941.8 890.9,943.0 891.0,944.2 891.0,945.4 891.0,946.6 891.1,947.8 891.1,949.0 891.2,950.2 891.2,951.4 891.2,952.6 891.3,953.8 891.3,955.0 891.3,956.2 891.4,957.5 891.4,958.7 891.5,959.9 891.5,961.1 891.5,962.3 891.6,963.5 891.6,964.7 891.6,965.9 891.7,967.1 891.7,968.3 891.8,969.5 891.8,970.7 891.8,971.9 891.9,973.1 891.9,974.3 891.9,975.5 892.0,976.7 892.0,977.9 892.0,979.1 892.1,980.3 892.1,981.5 892.1,982.7 892.2,983.9 892.2,985.1 892.3,986.3 892.3,987.5 892.3,988.7 892.4,989.9 892.4,991.1 892.4,992.3 892.5,993.5 892.5,994.7 892.5,995.9 892.6,997.1 892.6,998.3 892.6,999.5 892.7,1000.7 892.7,1001.9 892.7,1003.1 892.7,1004.3 892.8,1005.5 892.8,1006.7 892.8,1007.9 892.9,1009.1 892.9,1010.3 892.9,1011.5 893.0,1012.7 893.0,1013.9 893.0,1015.1 893.0,1016.3 893.1,1017.5 893.1,1018.7 893.1,1019.9 893.2,1021.1 893.2,1022.3 893.2,1023.5 893.2,1024.7 893.3,1025.9 893.3,1027.1 893.3,1028.3 893.4,1029.5 893.4,1030.7 893.4,1031.9 893.4,1033.1 893.5,1034.3 893.5,1035.5 893.5,1036.6 893.5,1037.8 893.6,1039.0 893.6,1040.2 893.6,1041.4 893.6,1042.6 893.6,1043.8 893.7,1045.0 893.7,1046.2 893.7,1047.4 893.7,1048.6 893.8,1049.8 893.8,1051.0 893.8,1052.2 893.8,1053.4 893.9,1054.6 893.9,1055.8 893.9,1057.0 893.9,1058.2 894.0,1059.4 894.0,1060.6 894.0,1061.8 894.0,1063.0 894.0,1064.2 894.1,1065.4 894.1,1066.6 894.1,1067.8 894.1,1069.0 894.2,1070.2 894.2,1071.4 894.2,1072.6 894.2,1073.8 894.3,1075.0 894.3,1076.2 894.3,1077.4 894.4,1078.6 894.4,1079.8 894.4,1081.0 894.4,1082.2 894.5,1083.4 894.5,1084.6 894.5,1085.8 894.6,1087.0 894.6,1088.2 894.6,1089.4 894.7,1090.6 894.7,1091.8 894.7,1093.0 894.8,1094.2 894.8,1095.4 894.8,1096.6 894.9,1097.8 894.9,1099.0 895.0,1100.2 895.0,1101.4 895.0,1102.5 895.1,1103.7 895.1,1104.9 895.2,1106.1 895.2,1107.3 895.2,1108.5 895.3,1109.7 895.3,1110.9 895.4,1112.1 895.4,1113.3 895.5,1114.5 895.5,1115.7 895.6,1116.9 895.6,1118.1 895.7,1119.3 895.7,1120.5 895.8,1121.7 895.8,1122.9 895.9,1124.1 896.0,1125.3 896.0,1126.5 896.1,1127.7 896.1,1128.9 896.2,1130.1 896.3,1131.3 896.3,1132.5 896.4,1133.7 896.5,1134.9 896.5,1136.1 896.6,1137.3 896.7,1138.5 896.8,1139.7 896.8,1140.9 896.9,1142.1 897.0,1143.3 897.1,1144.5 897.1,1145.7 897.2,1146.9 897.3,1148.1 897.4,1149.3 897.5,1150.5 897.6,1151.7 897.7,1152.9 897.7,1154.1 897.8,1155.2 897.9,1156.4 898.0,1157.6 898.1,1158.8 898.2,1160.0 898.3,1161.2 898.4,1162.4 898.5,1163.6 898.6,1164.8 898.7,1166.0 898.9,1167.2 899.0,1168.4 899.1,1169.6 899.2,1170.8 899.3,1172.0 899.4,1173.2 899.5,1174.4 899.7,1175.6 899.8,1176.8 899.9,1178.0 900.0,1179.2 900.2,1180.4 900.3,1181.6 900.4,1182.8 900.6,1184.0 900.7,1185.2 900.9,1186.4 901.0,1187.6 901.1,1188.8 901.3,1190.0 901.4,1191.2 901.6,1192.4 901.7,1193.6 901.9,1194.8 902.1,1196.0 902.2,1197.2 902.4,1198.4 902.5,1199.6 902.7,1200.8 902.9,1202.0 903.0,1203.2 903.2,1204.4 903.4,1205.6 903.6,1206.8 903.8,1208.0 903.9,1209.2 904.1,1210.4 904.3,1211.6 904.5,1212.8 904.7,1214.0 904.9,1215.2 905.1,1216.4 905.3,1217.6 905.5,1218.8 905.7,1220.0 905.9,1221.2 906.1,1222.4 906.3,1223.6 906.5,1224.8 906.8,1226.0 907.0,1227.2 907.2,1228.4 907.4,1229.6 907.7,1230.8 907.9,1232.0 908.1,1233.2 908.4,1234.4 908.6,1235.6 908.9,1236.8 909.1,1238.0 909.4,1239.2 909.6,1240.4 909.9,1241.6 910.1,1242.8 910.4,1244.0 910.7,1245.2 911.0,1246.3 911.2,1247.5 911.6,1248.7 911.9,1249.8 912.2,1251.0 912.6,1252.1 912.9,1253.2 913.3,1254.3 913.7,1255.4 914.2,1256.4 914.6,1257.5 915.1,1258.5 915.6,1259.5 916.1,1260.5 916.7,1261.4 917.3,1262.3 917.9,1263.2 918.5,1264.1 919.2,1264.9 919.9,1265.7 920.7,1266.4 921.5,1267.2 922.3,1267.9 923.2,1268.5 924.1,1269.1 925.1,1269.7 926.1,1270.2 927.1,1270.7 928.2,1271.1 929.4,1271.5 930.6,1271.8 931.8,1272.1 933.1,1272.3 934.4,1272.6 935.7,1272.8 937.1,1272.9 938.5,1273.1 939.8,1273.2 941.2,1273.4 942.6,1273.5 944.0,1273.7 945.4,1273.8 946.7,1274.0 948.0,1274.2 949.3,1274.4 950.6,1274.7 951.8,1275.0 953.0,1275.3 954.1,1275.7 955.2,1276.1 956.2,1276.6 957.2,1277.1 958.2,1277.7 959.1,1278.2 960.0,1278.8 961.0,1279.4 961.9,1280.0 962.8,1280.6 963.8,1281.1 964.8,1281.7 965.8,1282.3 966.8,1282.8 967.8,1283.4 968.8,1283.9 969.8,1284.5 970.9,1285.0 971.9,1285.5 973.0,1286.0 974.1,1286.5 975.2,1287.0 976.3,1287.5 977.4,1287.9 978.5,1288.4 979.6,1288.9 980.8,1289.3 981.9,1289.7 983.1,1290.1 984.2,1290.5 985.4,1290.9 986.5,1291.3 987.7,1291.7 988.9,1292.0 990.0,1292.3 991.2,1292.7 992.4,1293.0 993.6,1293.3 994.8,1293.5 996.0,1293.8 997.1,1294.0 998.3,1294.3 999.5,1294.5 1000.7,1294.7 1001.9,1294.9 1003.1,1295.0 1004.3,1295.2 1005.5,1295.3 1006.7,1295.5 1007.8,1295.6 1009.0,1295.7 1010.2,1295.8 1011.4,1295.9 1012.6,1296.0 1013.8,1296.1 1015.0,1296.2 1016.2,1296.3 1017.4,1296.4 1018.6,1296.5 1019.8,1296.6 1020.9,1296.7 1022.1,1296.8 1023.3,1296.9 1024.5,1297.0 1025.7,1297.1 1026.9,1297.2 1028.1,1297.4 1029.3,1297.5 1030.5,1297.7 1031.7,1297.8 1032.9,1298.0 1034.0,1298.2 1035.2,1298.4 1036.4,1298.6 1037.6,1298.9 1038.8,1299.1 1040.0,1299.4' stroke='#000' stroke-width='4' fill='none' stroke-linejoin='round'/>
<path d='M1252.0,909.4L1253.2,909.4 1254.4,909.3 1255.6,909.3 1256.9,909.3 1258.1,909.2 1259.3,909.2 1260.5,909.1 1261.7,909.1 1262.9,909.1 1264.1,909.0 1265.4,909.0 1266.6,908.9 1267.8,908.8 1269.0,908.8 1270.2,908.7 1271.4,908.7 1272.6,908.6 1273.8,908.5 1275.1,908.5 1276.3,908.4 1277.5,908.3 1278.7,908.3 1279.9,908.2 1281.1,908.1 1282.3,908.0 1283.6,907.9 1284.8,907.9 1286.0,907.8 1287.2,907.7 1288.4,907.6 1289.6,907.5 1290.8,907.4 1292.0,907.3 1293.3,907.2 1294.5,907.1 1295.7,907.0 1296.9,906.9 1298.1,906.8 1299.3,906.7 1300.5,906.6 1301.7,906.5 1302.9,906.4 1304.2,906.3 1305.4,906.1 1306.6,906.0 1307.8,905.9 1309.0,905.8 1310.2,905.7 1311.4,905.5 1312.6,905.4 1313.8,905.3 1315.0,905.1 1316.2,905.0 1317.5,904.9 1318.7,904.7 1319.9,904.6 1321.1,904.5 1322.3,904.3 1323.5,904.2 1324.7,904.0 1325.9,903.9 1327.1,903.7 1328.3,903.6 1329.5,903.4 1330.7,903.3 1331.9,903.1 1333.2,903.0 1334.4,902.8 1335.6,902.6 1336.8,902.5 1338.0,902.3 1339.2,902.1 1340.4,902.0 1341.6,901.8 1342.8,901.6 1344.0,901.4 1345.2,901.3 1346.4,901.1 1347.6,900.9 1348.8,900.7 1350.0,900.5 1351.2,900.4 1352.4,900.2 1353.6,900.0 1354.8,899.8 1356.0,899.6 1357.2,899.4 1358.4,899.2 1359.6,899.0 1360.8,898.8 1362.0,898.6 1363.2,898.4 1364.4,898.2 1365.6,898.0 1366.8,897.8 1368.0,897.6 1369.2,897.4 1370.4,897.2 1371.6,896.9 1372.8,896.7 1374.0,896.5 1375.2,896.3 1376.4,896.1 1377.6,895.9 1378.8,895.6 1380.0,895.4 1381.2,895.2 1382.4,894.9 1383.6,894.7 1384.8,894.5 1386.0,894.2 1387.1,894.0 1388.3,893.8 1389.5,893.5 1390.7,893.3 1391.9,893.1 1393.1,892.8 1394.3,892.6 1395.5,892.3 1396.7,892.1 1397.9,891.8 1399.1,891.6 1400.2,891.3 1401.4,891.1 1402.6,890.8 1403.8,890.5 1405.0,890.3 1406.2,890.0 1407.4,889.8 1408.6,889.5 1409.7,889.2 1410.9,889.0 1412.1,888.7 1413.3,888.4 1414.5,888.2 1415.7,887.9 1416.8,887.6 1418.0,887.3 1419.2,887.1 1420.4,886.8 1421.6,886.5 1422.7,886.2 1423.9,885.9 1425.1,885.6 1426.3,885.4 1427.5,885.1 1428.6,884.8 1429.8,884.5 1431.0,884.2 1445.5,884.1 1446.6,883.7 1447.7,883.4 1448.8,883.0 1449.9,882.7 1451.1,882.3 1452.2,881.9 1453.3,881.6 1454.4,881.2 1455.5,880.8 1456.7,880.4 1457.8,880.0 1458.9,879.7 1460.1,879.3 1461.2,878.9 1462.3,878.5 1463.5,878.1 1464.6,877.7 1465.8,877.2 1466.9,876.8 1468.0,876.4 1469.2,876.0 1470.3,875.6 1471.5,875.1 1472.6,874.7 1473.7,874.2 1474.9,873.8 1476.0,873.3 1477.1,872.9 1478.3,872.4 1479.4,871.9 1480.5,871.4 1481.7,871.0 1482.8,870.5 1483.9,870.0 1485.0,869.5 1486.1,869.0 1487.3,868.5 1488.4,867.9 1489.5,867.4 1490.6,866.9 1491.7,866.4 1492.8,865.8 1493.9,865.3 1495.0,864.7 1496.0,864.1 1497.1,863.6 1498.2,863.0 1499.3,862.4 1500.3,861.8 1501.4,861.2 1502.4,860.6 1503.5,860.0 1504.5,859.4 1505.6,858.7 1506.6,858.1 1507.6,857.4 1508.6,856.8 1509.6,856.1 1510.6,855.5 1511.6,854.8 1512.6,854.1 1513.6,853.4 1514.5,852.7 1515.5,852.0 1516.5,851.3 1517.4,850.5 1518.3,849.8 1519.3,849.0 1520.2,848.3 1521.1,847.5 1522.0,846.7 1522.9,845.9 1523.8,845.1 1524.6,844.3 1525.5,843.5 1526.4,842.7 1527.2,841.9 1528.0,841.0 1528.8,840.2 1529.6,839.3 1530.4,838.4 1531.2,837.5 1532.0,836.6 1532.8,835.7 1533.5,834.8 1534.2,833.9 1535.0,832.9 1535.7,832.0 1536.4,831.0 1537.1,830.1 1537.7,829.1 1538.4,828.1 1539.1,827.1 1539.7,826.1 1540.4,825.1 1541.0,824.0 1541.6,823.0 1542.2,822.0 1542.8,820.9 1543.4,819.9 1543.9,818.8 1544.5,817.7 1545.1,816.7 1545.6,815.6 1546.1,814.5 1546.7,813.4 1547.2,812.3 1547.7,811.2 1548.2,810.1 1548.7,809.0 1549.2,807.9 1549.6,806.7 1550.1,805.6 1550.6,804.5 1551.0,803.3 1551.5,802.2 1551.9,801.1 1552.3,799.9 1552.7,798.8 1553.1,797.6 1553.6,796.5 1554.0,795.3 1554.3,794.2 1554.7,793.0 1555.1,791.8 1555.5,790.7 1555.9,789.5 1556.2,788.4 1556.6,787.2 1556.9,786.0 1557.3,784.9 1557.6,783.7 1557.9,782.6 1558.3,781.4 1558.6,780.2 1558.9,779.1 1559.2,777.9 1559.5,776.8 1559.8,775.6 1560.1,774.4 1560.4,773.3 1560.7,772.1 1561.0,771.0 1561.3,769.8 1561.6,768.7 1561.9,767.5 1562.1,766.3 1562.4,765.2 1562.7,764.0 1562.9,762.9 1563.2,761.7 1563.4,760.5 1563.7,759.4 1563.9,758.2 1564.2,757.1 1564.4,755.9 1564.7,754.7 1564.9,753.6 1565.1,752.4 1565.4,751.2 1565.6,750.1 1565.8,748.9 1566.1,747.7 1566.3,746.6 1566.5,745.4 1566.8,744.2 1567.0,743.0 1567.2,741.8 1567.4,740.7 1567.6,739.5 1567.8,738.3 1568.1,737.1 1568.3,735.9 1568.5,734.7 1568.7,733.5 1568.9,732.3 1569.1,731.1 1569.3,729.9 1569.6,728.7 1569.8,727.5 1570.0,726.3 1570.2,725.0 1570.4,723.8 1570.7,722.6 1570.9,721.4 1571.1,720.1 1571.4,718.9 1571.6,717.7 1571.9,716.5 1572.2,715.2 1572.5,714.0 1572.8,712.8 1573.1,711.5 1573.4,710.3 1573.7,709.1 1574.1,707.8 1574.5,706.6 1574.8,705.4 1575.2,704.1 1575.7,702.9 1576.1,701.6 1576.6,700.4 1577.0,699.2 1577.5,698.1 1578.0,697.1 1578.5,696.3 1579.0,695.7 1579.5,695.4 1580.0,695.4 1580.5,695.7 1581.0,696.2 1581.4,697.0 1581.9,698.0 1582.3,699.1 1582.6,700.4 1583.0,701.7 1583.3,703.1 1583.5,704.6 1583.7,706.0 1583.9,707.4 1584.1,708.8 1584.2,710.1 1584.3,711.5 1584.4,712.9 1584.5,714.2 1584.6,715.6 1584.6,716.9 1584.7,718.2 1584.8,719.5 1584.9,720.8 1584.9,722.0 1585.0,723.3 1585.1,724.6 1585.2,725.8 1585.3,727.0 1585.3,728.2 1585.4,729.4 1585.5,730.6 1585.6,731.8 1585.7,733.0 1585.7,734.2 1585.8,735.4 1585.9,736.6 1586.0,737.8 1586.1,738.9 1586.1,740.1 1586.2,741.3 1586.3,742.5 1586.4,743.6 1586.5,744.8 1586.6,746.0 1586.6,747.2 1586.7,748.4 1586.8,749.5 1586.9,750.7 1587.0,751.9 1587.1,753.1 1587.1,754.3 1587.2,755.5 1587.3,756.7 1587.4,757.8 1587.5,759.0 1587.6,760.2 1587.6,761.4 1587.7,762.6 1587.8,763.8 1587.9,765.0 1588.0,766.2 1588.1,767.4 1588.2,768.6 1588.2,769.7 1588.3,770.9 1588.4,772.1 1588.5,773.3 1588.6,774.5 1588.7,775.7 1588.8,776.9 1588.8,778.1 1588.9,779.3 1589.0,780.5 1589.1,781.7 1589.2,782.9 1589.3,784.1 1589.4,785.3 1589.4,786.5 1589.5,787.7 1589.6,788.9 1589.7,790.1 1589.8,791.3 1589.9,792.5 1590.0,793.7 1590.1,794.9 1590.2,796.1 1590.2,797.3 1590.3,798.5 1590.4,799.7 1590.5,800.9 1590.6,802.2 1590.7,803.4 1590.8,804.6 1590.9,805.8 1591.0,807.0 1591.0,808.2 1591.1,809.4 1591.2,810.6 1591.3,811.8 1591.4,813.0 1591.5,814.2 1591.6,815.4 1591.7,816.6 1591.8,817.8 1591.9,819.1 1592.0,820.3 1592.0,821.5 1592.1,822.7 1592.2,823.9 1592.3,825.1 1592.4,826.3 1592.5,827.5 1592.6,828.7 1592.7,829.9 1592.8,831.1 1592.9,832.3 1593.0,833.6 1593.1,834.8 1593.2,836.0 1593.2,837.2 1593.3,838.4 1593.4,839.6 1593.5,840.8 1593.6,842.0 1593.7,843.2 1593.8,844.4 1593.9,845.6 1594.0,846.8 1594.1,848.0 1594.2,849.2 1594.3,850.5 1594.4,851.7 1594.5,852.9 1594.6,854.1 1594.7,855.3 1594.8,856.5 1594.9,857.7 1595.0,858.9 1595.0,860.1 1595.1,861.3 1595.2,862.5 1595.3,863.7 1595.4,864.9 1595.5,866.1 1595.6,867.3 1595.7,868.5 1595.8,869.7 1595.9,870.9 1596.0,872.1 1596.1,873.3 1596.2,874.5 1596.3,875.7 1596.4,876.9 1596.5,878.1 1596.6,879.3 1596.7,880.5 1596.8,881.7 1596.9,882.9 1597.0,884.1 1597.1,885.3 1597.2,886.5 1597.3,887.7 1597.4,888.9 1597.5,890.1 1597.6,891.2 1597.7,892.4 1597.8,893.6 1597.9,894.8 1598.0,896.0' stroke='#000' stroke-width='3.9' fill='none' stroke-linejoin='round'/>
<path d='M1252.0,1033.9L1253.2,1033.9 1254.4,1034.0 1255.6,1034.0 1256.8,1034.0 1258.0,1034.0 1259.2,1034.0 1260.4,1034.0 1261.6,1034.0 1262.9,1034.0 1264.1,1034.0 1265.3,1034.0 1266.5,1034.0 1267.7,1033.9 1268.9,1033.9 1270.1,1033.9 1271.3,1033.8 1272.5,1033.8 1273.7,1033.8 1274.9,1033.7 1276.1,1033.7 1277.3,1033.6 1278.5,1033.6 1279.7,1033.5 1280.9,1033.4 1282.1,1033.4 1283.3,1033.3 1284.5,1033.2 1285.7,1033.2 1287.0,1033.1 1288.2,1033.0 1289.4,1032.9 1290.6,1032.8 1291.8,1032.7 1293.0,1032.6 1294.2,1032.5 1295.4,1032.4 1296.6,1032.3 1297.8,1032.2 1299.0,1032.1 1300.2,1032.0 1301.4,1031.9 1302.6,1031.8 1303.8,1031.7 1305.0,1031.5 1306.2,1031.4 1307.4,1031.3 1308.6,1031.1 1309.8,1031.0 1311.0,1030.9 1312.2,1030.7 1313.4,1030.6 1314.6,1030.4 1315.8,1030.3 1317.0,1030.2 1318.2,1030.0 1319.4,1029.8 1320.6,1029.7 1321.8,1029.5 1323.0,1029.4 1324.2,1029.2 1325.4,1029.0 1326.6,1028.9 1327.8,1028.7 1329.0,1028.5 1330.2,1028.4 1331.4,1028.2 1332.6,1028.0 1333.8,1027.8 1335.0,1027.6 1336.2,1027.5 1337.4,1027.3 1338.6,1027.1 1339.8,1026.9 1341.0,1026.7 1342.2,1026.5 1343.4,1026.3 1344.6,1026.1 1345.8,1025.9 1347.0,1025.7 1348.2,1025.5 1349.4,1025.3 1350.6,1025.1 1351.8,1024.9 1353.0,1024.7 1354.2,1024.5 1355.3,1024.3 1356.5,1024.1 1357.7,1023.9 1358.9,1023.7 1360.1,1023.5 1361.3,1023.3 1362.5,1023.1 1363.7,1022.8 1364.9,1022.6 1366.1,1022.4 1367.3,1022.2 1368.5,1022.0 1369.7,1021.7 1370.8,1021.5 1372.0,1021.3 1373.2,1021.0 1374.4,1020.8 1375.6,1020.6 1376.8,1020.4 1378.0,1020.1 1379.2,1019.9 1380.4,1019.6 1381.5,1019.4 1382.7,1019.1 1383.9,1018.9 1385.1,1018.7 1386.3,1018.4 1387.5,1018.2 1388.6,1017.9 1389.8,1017.6 1391.0,1017.4 1392.2,1017.1 1393.4,1016.8 1394.5,1016.6 1395.7,1016.3 1396.9,1016.0 1398.1,1015.8 1399.2,1015.5 1400.4,1015.2 1401.6,1014.9 1402.8,1014.6 1403.9,1014.3 1405.1,1014.1 1406.3,1013.8 1407.4,1013.5 1408.6,1013.2 1409.8,1012.9 1410.9,1012.5 1412.1,1012.2 1413.3,1011.9 1414.4,1011.6 1415.6,1011.3 1416.7,1011.0 1417.9,1010.6 1419.1,1010.3 1420.2,1010.0 1421.4,1009.6 1422.5,1009.3 1423.7,1009.0 1424.8,1008.6 1426.0,1008.3 1427.1,1007.9 1428.3,1007.5 1429.4,1007.2 1430.6,1006.8 1431.7,1006.5 1432.9,1006.1 1434.0,1005.7 1451.0,1005.3 1452.1,1004.9 1453.3,1004.5 1454.4,1004.0 1455.6,1003.6 1456.7,1003.2 1457.8,1002.7 1458.9,1002.3 1460.0,1001.8 1461.2,1001.3 1462.3,1000.8 1463.4,1000.3 1464.5,999.8 1465.6,999.3 1466.7,998.8 1467.7,998.3 1468.8,997.8 1469.9,997.2 1471.0,996.7 1472.1,996.1 1473.1,995.6 1474.2,995.0 1475.3,994.5 1476.3,993.9 1477.4,993.3 1478.4,992.7 1479.5,992.1 1480.5,991.5 1481.6,990.9 1482.6,990.3 1483.6,989.7 1484.7,989.1 1485.7,988.5 1486.7,987.8 1487.8,987.2 1488.8,986.6 1489.8,985.9 1490.8,985.3 1491.9,984.6 1492.9,984.0 1493.9,983.3 1494.9,982.6 1495.9,982.0 1496.9,981.3 1497.9,980.6 1498.9,979.9 1499.9,979.3 1500.9,978.6 1501.9,977.9 1502.9,977.2 1503.9,976.5 1504.9,975.8 1505.9,975.1 1506.9,974.4 1507.9,973.7 1508.9,973.0 1509.8,972.3 1510.8,971.5 1511.8,970.8 1512.8,970.1 1513.8,969.4 1514.8,968.7 1515.7,968.0 1516.7,967.2 1517.7,966.5 1518.7,965.8 1519.6,965.1 1520.6,964.3 1521.6,963.6 1522.6,962.9 1523.5,962.2 1524.5,961.4 1525.5,960.7 1526.5,960.0 1527.4,959.2 1528.4,958.5 1529.4,957.8 1530.3,957.1 1531.3,956.3 1532.3,955.6 1533.3,954.9 1534.2,954.2 1535.2,953.4 1536.2,952.7 1537.2,952.0 1538.1,951.3 1539.1,950.5 1540.1,949.8 1541.1,949.1 1542.0,948.4 1543.0,947.7 1544.0,947.0 1545.0,946.3 1546.0,945.6 1546.9,944.9 1547.9,944.2 1548.9,943.5 1549.9,942.8 1550.9,942.1 1551.9,941.4 1552.9,940.7 1553.8,940.0 1554.8,939.4 1555.8,938.7 1556.8,938.0 1557.8,937.3 1558.8,936.7 1559.8,936.0 1560.8,935.4 1561.8,934.7 1562.8,934.1 1563.8,933.4 1564.9,932.8 1565.9,932.2 1566.9,931.5 1567.9,930.9 1568.9,930.3 1570.0,929.7 1571.0,929.1 1572.0,928.5 1573.0,927.9 1574.1,927.3 1575.1,926.7 1576.1,926.1 1577.2,925.5 1578.2,924.9 1579.3,924.3 1580.3,923.7 1581.4,923.1 1582.5,922.5 1583.5,921.9 1584.6,921.3 1585.7,920.7 1586.8,920.1 1587.9,919.5 1588.9,918.9 1590.0,918.3 1591.1,917.7 1592.2,917.0 1593.4,916.4 1594.5,915.8 1595.6,915.2 1596.7,914.6 1597.8,914.0 1599.0,913.4 1600.1,912.8 1601.2,912.2 1602.4,911.6 1603.5,911.1 1604.7,910.6 1605.8,910.1 1606.9,909.7 1608.1,909.2 1609.2,908.8 1610.4,908.5 1611.5,908.2 1612.7,907.9 1613.8,907.6 1615.0,907.5 1616.1,907.3 1617.2,907.3 1618.4,907.2 1619.5,907.2 1620.6,907.3 1621.7,907.5 1622.8,907.6 1623.9,907.9 1625.0,908.1 1626.0,908.5 1627.1,908.9 1628.1,909.3 1629.1,909.8 1630.1,910.3 1631.0,910.9 1632.0,911.5 1632.9,912.2 1633.7,912.9 1634.6,913.6 1635.4,914.4 1636.3,915.2 1637.0,916.1 1637.8,917.0 1638.6,917.9 1639.3,918.8 1640.0,919.8 1640.7,920.8 1641.3,921.8 1642.0,922.8 1642.6,923.9 1643.2,924.9 1643.8,926.0 1644.4,927.1 1645.0,928.2 1645.6,929.3 1646.1,930.4 1646.6,931.6 1647.1,932.7 1647.7,933.9 1648.2,935.0 1648.6,936.2 1649.1,937.4 1649.6,938.6 1650.1,939.8 1650.5,940.9 1651.0,942.1 1651.4,943.3 1651.9,944.5 1652.3,945.8 1652.8,947.0 1653.2,948.2 1653.7,949.4 1654.1,950.6 1654.6,951.7 1655.0,952.9 1655.5,954.1 1656.0,955.3 1656.4,956.5 1656.9,957.6 1657.4,958.8 1657.9,959.9 1658.3,961.1 1658.8,962.2 1659.4,963.3 1659.9,964.4 1660.4,965.5 1661.0,966.6 1661.5,967.6 1662.1,968.6 1662.7,969.7 1663.3,970.7 1663.9,971.6 1664.5,972.6 1665.2,973.5 1665.9,974.5 1666.6,975.4 1667.3,976.2 1668.0,977.1 1668.8,977.9 1669.6,978.7 1670.4,979.5 1671.2,980.2 1672.0,980.9 1672.9,981.6 1673.8,982.3 1674.8,982.9 1675.7,983.5 1676.7,984.1 1677.7,984.6 1678.8,985.1 1679.9,985.5 1681.0,986.0 1682.1,986.3 1683.2,986.7 1684.3,987.0 1685.5,987.2 1686.7,987.5 1687.9,987.6 1689.1,987.8 1690.3,987.9 1691.5,987.9 1692.7,987.9 1693.9,987.9 1695.1,987.8 1696.3,987.6 1697.5,987.4 1698.7,987.2 1699.9,987.0 1701.1,986.7 1702.3,986.3 1703.5,986.0 1704.7,985.6 1705.9,985.2 1707.0,984.8 1708.2,984.3 1709.4,983.8 1710.5,983.4 1711.7,982.9 1712.8,982.4 1714.0,981.9 1715.1,981.3 1716.3,980.8 1717.4,980.3 1718.5,979.8 1719.6,979.2 1720.7,978.7 1721.8,978.2 1722.9,977.7 1724.0,977.1 1725.1,976.6 1726.2,976.1 1727.3,975.6 1728.4,975.0 1729.5,974.5 1730.6,974.0 1731.7,973.5 1732.8,973.0 1733.8,972.5 1734.9,972.1 1736.0,971.6 1737.1,971.1 1738.2,970.7 1739.4,970.2 1740.5,969.8 1741.6,969.4 1742.7,969.0 1743.8,968.6 1745.0,968.2 1746.1,967.9 1747.3,967.5 1748.4,967.2 1749.6,966.9 1750.8,966.6 1752.0,966.3 1753.2,966.0 1754.4,965.8' stroke='#000' stroke-width='3.9' fill='none' stroke-linejoin='round'/>
<path d='M1252.0,1159.0L1253.1,1159.6 1254.3,1160.1 1255.4,1160.6 1256.5,1161.1 1257.7,1161.6 1258.8,1162.1 1259.9,1162.6 1261.1,1163.1 1262.2,1163.5 1263.4,1163.9 1264.5,1164.4 1265.7,1164.8 1266.8,1165.2 1268.0,1165.6 1269.1,1166.0 1270.3,1166.3 1271.4,1166.7 1272.6,1167.0 1273.8,1167.4 1274.9,1167.7 1276.1,1168.0 1277.2,1168.3 1278.4,1168.6 1279.6,1168.9 1280.8,1169.2 1281.9,1169.4 1283.1,1169.7 1284.3,1169.9 1285.5,1170.1 1286.6,1170.3 1287.8,1170.5 1289.0,1170.7 1290.2,1170.9 1291.4,1171.1 1292.5,1171.3 1293.7,1171.4 1294.9,1171.6 1296.1,1171.7 1297.3,1171.8 1298.5,1172.0 1299.7,1172.1 1300.9,1172.2 1302.1,1172.3 1303.3,1172.3 1304.5,1172.4 1305.7,1172.5 1306.8,1172.5 1308.0,1172.6 1309.2,1172.6 1310.4,1172.6 1311.6,1172.7 1312.8,1172.7 1314.0,1172.7 1315.2,1172.7 1316.5,1172.6 1317.7,1172.6 1318.9,1172.6 1320.1,1172.6 1321.3,1172.5 1322.5,1172.5 1323.7,1172.4 1324.9,1172.3 1326.1,1172.2 1327.3,1172.2 1328.5,1172.1 1329.7,1172.0 1330.9,1171.9 1332.1,1171.8 1333.3,1171.6 1334.5,1171.5 1335.7,1171.4 1337.0,1171.2 1338.2,1171.1 1339.4,1170.9 1340.6,1170.8 1341.8,1170.6 1343.0,1170.4 1344.2,1170.2 1345.4,1170.1 1346.6,1169.9 1347.8,1169.7 1349.0,1169.5 1350.2,1169.3 1351.4,1169.0 1352.6,1168.8 1353.9,1168.6 1355.1,1168.4 1356.3,1168.1 1357.5,1167.9 1358.7,1167.6 1359.9,1167.4 1361.1,1167.1 1362.3,1166.9 1363.5,1166.6 1364.7,1166.3 1365.9,1166.0 1367.1,1165.8 1368.3,1165.5 1369.5,1165.2 1370.7,1164.9 1371.9,1164.6 1373.1,1164.3 1374.3,1164.0 1375.4,1163.7 1376.6,1163.4 1377.8,1163.0 1379.0,1162.7 1380.2,1162.4 1381.4,1162.1 1382.6,1161.7 1383.8,1161.4 1385.0,1161.0 1386.1,1160.7 1387.3,1160.3 1388.5,1160.0 1389.7,1159.6 1390.9,1159.3 1392.0,1158.9 1393.2,1158.6 1394.4,1158.2 1395.6,1157.8 1396.7,1157.5 1397.9,1157.1 1399.1,1156.7 1400.2,1156.3 1401.4,1156.0 1402.6,1155.6 1403.7,1155.2 1404.9,1154.8 1406.0,1154.4 1407.2,1154.0 1408.3,1153.6 1409.5,1153.2 1410.6,1152.9 1411.8,1152.5 1412.9,1152.1 1414.1,1151.7 1415.2,1151.3 1416.4,1150.9 1417.5,1150.5 1418.6,1150.1 1419.8,1149.7 1420.9,1149.3 1422.0,1148.9 1423.2,1148.5 1424.3,1148.1 1425.4,1147.6 1426.5,1147.2 1427.6,1146.8 1428.8,1146.4 1429.9,1146.0 1431.0,1145.6 1432.1,1145.2 1433.2,1144.8 1434.3,1144.4 1435.4,1144.0 1450.8,1144.0 1452.0,1143.6 1453.1,1143.2 1454.3,1142.7 1455.4,1142.3 1456.6,1141.8 1457.7,1141.3 1458.8,1140.9 1459.9,1140.4 1461.0,1139.9 1462.1,1139.3 1463.2,1138.8 1464.3,1138.3 1465.3,1137.7 1466.4,1137.2 1467.5,1136.6 1468.5,1136.1 1469.6,1135.5 1470.6,1134.9 1471.6,1134.3 1472.7,1133.7 1473.7,1133.1 1474.7,1132.5 1475.7,1131.8 1476.7,1131.2 1477.7,1130.5 1478.7,1129.9 1479.7,1129.2 1480.7,1128.6 1481.6,1127.9 1482.6,1127.2 1483.6,1126.5 1484.6,1125.8 1485.5,1125.1 1486.5,1124.4 1487.4,1123.7 1488.4,1123.0 1489.3,1122.3 1490.3,1121.6 1491.2,1120.9 1492.2,1120.1 1493.1,1119.4 1494.0,1118.7 1495.0,1117.9 1495.9,1117.2 1496.8,1116.4 1497.7,1115.7 1498.7,1114.9 1499.6,1114.2 1500.5,1113.4 1501.4,1112.6 1502.3,1111.9 1503.3,1111.1 1504.2,1110.3 1505.1,1109.6 1506.0,1108.8 1506.9,1108.0 1507.8,1107.3 1508.8,1106.5 1509.7,1105.7 1510.6,1104.9 1511.5,1104.2 1512.4,1103.4 1513.3,1102.6 1514.3,1101.8 1515.2,1101.1 1516.1,1100.3 1517.0,1099.5 1518.0,1098.7 1518.9,1098.0 1519.8,1097.2 1520.7,1096.4 1521.7,1095.7 1522.6,1094.9 1523.5,1094.1 1524.5,1093.4 1525.4,1092.6 1526.3,1091.8 1527.3,1091.1 1528.2,1090.3 1529.1,1089.6 1530.1,1088.8 1531.0,1088.1 1532.0,1087.3 1532.9,1086.6 1533.9,1085.8 1534.8,1085.1 1535.8,1084.3 1536.7,1083.6 1537.7,1082.9 1538.6,1082.1 1539.6,1081.4 1540.5,1080.7 1541.5,1080.0 1542.5,1079.2 1543.4,1078.5 1544.4,1077.8 1545.4,1077.1 1546.3,1076.4 1547.3,1075.7 1548.3,1075.0 1549.3,1074.3 1550.2,1073.6 1551.2,1072.9 1552.2,1072.3 1553.2,1071.6 1554.2,1070.9 1555.2,1070.2 1556.2,1069.6 1557.2,1068.9 1558.2,1068.3 1559.2,1067.6 1560.2,1067.0 1561.2,1066.3 1562.2,1065.7 1563.2,1065.1 1564.2,1064.4 1565.3,1063.8 1566.3,1063.2 1567.3,1062.6 1568.3,1062.0 1569.4,1061.4 1570.4,1060.8 1571.4,1060.2 1572.5,1059.7 1573.5,1059.1 1574.6,1058.5 1575.6,1058.0 1576.7,1057.4 1577.7,1056.9 1578.8,1056.3 1579.8,1055.8 1580.9,1055.3 1582.0,1054.7 1583.0,1054.2 1584.1,1053.7 1585.2,1053.2 1586.2,1052.7 1587.3,1052.2 1588.4,1051.7 1589.5,1051.3 1590.6,1050.8 1591.7,1050.3 1592.8,1049.9 1593.9,1049.4 1595.0,1049.0 1596.1,1048.5 1597.2,1048.1 1598.3,1047.6 1599.4,1047.2 1600.5,1046.8 1601.6,1046.4 1602.7,1046.0 1603.8,1045.5 1605.0,1045.1 1606.1,1044.7 1607.2,1044.3 1608.3,1044.0 1609.5,1043.6 1610.6,1043.2 1611.7,1042.8 1612.9,1042.4 1614.0,1042.1 1615.1,1041.7 1616.3,1041.3 1617.4,1041.0 1618.6,1040.6 1619.7,1040.3 1620.9,1039.9 1622.0,1039.6 1623.2,1039.2 1624.3,1038.9 1625.5,1038.6 1626.6,1038.2 1627.8,1037.9 1628.9,1037.6 1630.1,1037.3 1631.3,1036.9 1632.4,1036.6 1633.6,1036.3 1634.7,1036.0 1635.9,1035.7 1637.1,1035.4 1638.2,1035.1 1639.4,1034.8 1640.6,1034.5 1641.7,1034.2 1642.9,1033.9 1644.1,1033.6 1645.3,1033.3 1646.4,1033.0 1647.6,1032.8 1648.8,1032.5 1650.0,1032.2 1651.1,1031.9 1652.3,1031.6 1653.5,1031.4 1654.7,1031.1 1655.8,1030.8 1657.0,1030.5 1658.2,1030.3 1659.4,1030.0 1660.6,1029.7 1661.7,1029.5 1662.9,1029.2 1664.1,1028.9 1665.3,1028.7 1666.5,1028.4 1667.6,1028.1 1668.8,1027.9 1670.0,1027.6 1671.2,1027.3 1672.4,1027.1 1673.6,1026.8 1674.7,1026.6 1675.9,1026.3 1677.1,1026.0 1678.3,1025.8 1679.5,1025.5 1680.6,1025.2 1681.8,1025.0 1683.0,1024.7 1684.2,1024.4 1685.3,1024.1 1686.5,1023.9 1687.7,1023.6 1688.9,1023.3 1690.0,1023.0 1691.2,1022.7 1692.4,1022.4 1693.5,1022.2 1694.7,1021.9 1695.8,1021.6 1697.0,1021.3 1698.2,1021.0 1699.3,1020.6 1700.5,1020.3 1701.6,1020.0 1702.8,1019.7 1703.9,1019.4 1705.1,1019.0 1706.2,1018.7 1707.4,1018.4 1708.5,1018.0 1709.6,1017.7 1710.8,1017.3 1711.9,1016.9 1713.0,1016.6 1714.2,1016.2 1715.3,1015.8 1716.4,1015.4 1717.5,1015.0 1718.6,1014.6 1719.8,1014.2 1720.9,1013.8 1722.0,1013.4 1723.1,1013.0 1724.2,1012.5 1725.3,1012.1 1726.3,1011.6 1727.4,1011.2 1728.5,1010.7 1729.6,1010.2 1730.7,1009.8 1731.7,1009.3 1732.8,1008.8 1733.9,1008.3 1734.9,1007.7 1736.0,1007.2 1737.0,1006.7 1738.1,1006.1 1739.1,1005.6 1740.2,1005.0 1741.2,1004.4 1742.2,1003.8 1743.2,1003.2 1744.3,1002.6 1745.3,1002.0 1746.3,1001.4 1747.3,1000.7 1748.3,1000.1 1749.3,999.4 1750.3,998.7 1751.2,998.0 1752.2,997.3 1753.2,996.6 1754.2,995.9 1755.1,995.2 1756.1,994.4 1757.0,993.7 1758.0,992.9 1758.9,992.1 1759.8,991.3 1760.7,990.5 1761.7,989.7 1762.6,988.8 1763.5,988.0 1764.4,987.1 1765.2,986.3 1766.1,985.4 1767.0,984.5 1767.8,983.6 1768.7,982.8 1769.5,981.9 1770.4,981.0 1771.2,980.0 1772.0,979.1 1772.8,978.2 1773.6,977.3 1774.3,976.4 1775.1,975.4 1775.9,974.5 1776.6,973.6 1777.3,972.6 1778.0,971.7 1778.8,970.8 1779.4,969.8 1780.1,968.9 1780.8,968.0 1781.4,967.0 1782.1,966.1 1782.7,965.1 1783.3,964.2 1783.9,963.2 1784.5,962.2 1785.1,961.2 1785.7,960.2 1786.3,959.2 1786.8,958.1 1787.4,957.0 1788.0,955.9 1788.5,954.7 1789.1,953.5 1789.6,952.3 1790.2,951.0 1790.7,949.8 1791.3,948.5 1791.9,947.2 1792.5,946.0 1793.2,944.8 1793.9,943.7 1794.6,942.7 1795.4,941.7 1796.2,940.9 1797.1,940.2 1798.0,939.6 1798.9,939.3 1799.8,939.1 1800.7,939.1 1801.6,939.3 1802.5,939.7 1803.4,940.2 1804.2,940.9 1805.0,941.7 1805.6,942.6 1806.3,943.6 1806.9,944.7 1807.4,945.8 1807.9,947.0 1808.4,948.3 1808.8,949.6 1809.2,951.0 1809.6,952.4 1809.9,953.8 1810.2,955.2 1810.6,956.5 1810.9,957.9 1811.2,959.3 1811.5,960.6 1811.8,961.8 1812.1,963.1 1812.4,964.3 1812.7,965.5 1813.1,966.6 1813.4,967.8 1813.7,968.9 1814.0,970.0 1814.3,971.1 1814.6,972.1 1814.9,973.2 1815.2,974.2 1815.5,975.2 1815.8,976.3 1816.0,977.3 1816.3,978.3 1816.6,979.4 1816.9,980.4 1817.2,981.5 1817.5,982.5 1817.8,983.6 1818.0,984.7 1818.3,985.8 1818.6,986.9 1818.8,988.1 1819.1,989.2 1819.4,990.4 1819.6,991.7 1819.9,992.9 1820.1,994.2 1820.4,995.5 1820.6,996.9 1820.9,998.2 1821.1,999.6 1821.4,1001.0 1821.7,1002.3 1822.0,1003.7 1822.4,1005.0 1822.7,1006.4 1823.1,1007.7 1823.5,1008.9 1823.9,1010.2 1824.4,1011.3 1824.9,1012.5 1825.5,1013.5 1826.1,1014.6 1826.7,1015.5 1827.4,1016.4 1828.1,1017.2 1828.9,1017.9 1829.8,1018.5 1830.7,1019.0 1831.6,1019.4 1832.5,1019.6 1833.5,1019.8 1834.4,1019.8 1835.4,1019.6 1836.4,1019.3 1837.3,1018.8 1838.3,1018.1 1839.2,1017.3 1840.1,1016.3 1840.9,1015.2 1841.7,1014.1 1842.5,1012.8 1843.3,1011.6 1844.0,1010.4 1844.7,1009.1 1845.4,1007.9 1846.0,1006.8 1846.6,1005.6 1847.1,1004.5 1847.7,1003.3 1848.2,1002.2 1848.7,1001.1 1849.1,1000.0 1849.6,998.9 1850.1,997.8 1850.5,996.7 1850.9,995.6 1851.3,994.5 1851.8,993.4 1852.2,992.2 1852.6,991.1 1853.0,990.0 1853.4,988.9 1853.7,987.8 1854.1,986.7 1854.5,985.6 1854.9,984.4 1855.3,983.3 1855.7,982.2 1856.0,981.1 1856.4,980.0 1856.8,978.8 1857.2,977.7 1857.6,976.6 1857.9,975.5 1858.3,974.3 1858.7,973.2 1859.1,972.1 1859.5,970.9 1859.8,969.8 1860.2,968.7 1860.6,967.5 1860.9,966.4 1861.3,965.3 1861.7,964.1 1862.1,963.0 1862.4,961.9 1862.8,960.7 1863.2,959.6 1863.5,958.4 1863.9,957.3 1864.3,956.1 1864.6,955.0 1865.0,953.9 1865.3,952.7 1865.7,951.6 1866.1,950.4 1866.4,949.3 1866.8,948.1 1867.1,947.0 1867.5,945.8 1867.9,944.7 1868.2,943.5 1868.6,942.4 1868.9,941.2 1869.3,940.1 1869.6,938.9 1870.0,937.8 1870.3,936.6 1870.7,935.5 1871.0,934.3 1871.4,933.2 1871.7,932.0 1872.1,930.9 1872.4,929.7 1872.7,928.6 1873.1,927.4 1873.4,926.3 1873.8,925.1 1874.1,924.0 1874.5,922.8 1874.8,921.6 1875.1,920.5 1875.5,919.3 1875.8,918.2 1876.1,917.0 1876.5,915.9 1876.8,914.7 1877.1,913.6 1877.5,912.4 1877.8,911.3 1878.1,910.1 1878.5,908.9 1878.8,907.8 1879.1,906.6 1879.4,905.5 1879.8,904.3 1880.1,903.2 1880.4,902.0 1880.7,900.9 1881.0,899.7 1881.4,898.6 1881.7,897.4 1882.0,896.3 1882.3,895.1 1882.6,894.0 1883.0,892.8 1883.3,891.7 1883.6,890.5 1883.9,889.3 1884.2,888.2' stroke='#000' stroke-width='3.9' fill='none' stroke-linejoin='round'/>
<path d='M1252.0,1232.5L1253.2,1232.8 1254.4,1233.2 1255.5,1233.5 1256.7,1233.8 1257.9,1234.2 1259.1,1234.5 1260.3,1234.8 1261.5,1235.0 1262.6,1235.3 1263.8,1235.6 1265.0,1235.8 1266.2,1236.1 1267.4,1236.3 1268.6,1236.6 1269.8,1236.8 1271.0,1237.0 1272.2,1237.2 1273.3,1237.4 1274.5,1237.6 1275.7,1237.8 1276.9,1238.0 1278.1,1238.1 1279.3,1238.3 1280.5,1238.5 1281.7,1238.6 1282.9,1238.7 1284.1,1238.9 1285.3,1239.0 1286.5,1239.1 1287.7,1239.2 1288.9,1239.3 1290.1,1239.4 1291.2,1239.5 1292.4,1239.6 1293.6,1239.7 1294.8,1239.7 1296.0,1239.8 1297.2,1239.8 1298.4,1239.9 1299.6,1239.9 1300.8,1240.0 1302.0,1240.0 1303.2,1240.0 1304.4,1240.0 1305.6,1240.0 1306.8,1240.0 1308.0,1240.0 1309.2,1240.0 1310.4,1240.0 1311.6,1240.0 1312.8,1240.0 1314.0,1239.9 1315.2,1239.9 1316.4,1239.9 1317.6,1239.8 1318.9,1239.8 1320.1,1239.7 1321.3,1239.6 1322.5,1239.6 1323.7,1239.5 1324.9,1239.4 1326.1,1239.3 1327.3,1239.2 1328.5,1239.2 1329.7,1239.1 1330.9,1239.0 1332.1,1238.8 1333.3,1238.7 1334.5,1238.6 1335.7,1238.5 1336.9,1238.4 1338.1,1238.2 1339.3,1238.1 1340.5,1238.0 1341.7,1237.8 1342.9,1237.7 1344.1,1237.5 1345.3,1237.4 1346.5,1237.2 1347.7,1237.1 1348.9,1236.9 1350.1,1236.7 1351.3,1236.6 1352.5,1236.4 1353.7,1236.2 1354.9,1236.0 1356.1,1235.9 1357.3,1235.7 1358.5,1235.5 1359.7,1235.3 1360.9,1235.1 1362.2,1234.9 1363.4,1234.7 1364.6,1234.5 1365.8,1234.3 1367.0,1234.1 1368.2,1233.9 1369.4,1233.7 1370.6,1233.4 1371.8,1233.2 1373.0,1233.0 1374.1,1232.8 1375.3,1232.6 1376.5,1232.3 1377.7,1232.1 1378.9,1231.9 1380.1,1231.7 1381.3,1231.4 1382.5,1231.2 1383.7,1231.0 1384.9,1230.7 1386.1,1230.5 1387.3,1230.3 1388.5,1230.0 1389.7,1229.8 1390.9,1229.5 1392.1,1229.3 1393.3,1229.1 1394.5,1228.8 1395.7,1228.6 1396.9,1228.3 1398.0,1228.1 1399.2,1227.8 1400.4,1227.6 1401.6,1227.3 1402.8,1227.1 1404.0,1226.9 1405.2,1226.6 1406.4,1226.4 1407.6,1226.1 1408.7,1225.9 1409.9,1225.6 1411.1,1225.4 1412.3,1225.1 1413.5,1224.9 1414.7,1224.6 1415.8,1224.4 1417.0,1224.2 1418.2,1223.9 1419.4,1223.7 1420.6,1223.4 1421.7,1223.2 1422.9,1223.0 1424.1,1222.7 1425.3,1222.5 1426.4,1222.2 1427.6,1222.0 1428.8,1221.8 1430.0,1221.6 1431.1,1221.3 1432.3,1221.1 1433.5,1220.9 1434.7,1220.6 1435.8,1220.4 1437.0,1220.2 1445.0,1219.4 1446.2,1219.1 1447.3,1218.7 1448.4,1218.3 1449.6,1218.0 1450.7,1217.6 1451.8,1217.2 1453.0,1216.8 1454.1,1216.4 1455.2,1215.9 1456.3,1215.5 1457.4,1215.1 1458.5,1214.6 1459.6,1214.1 1460.7,1213.7 1461.8,1213.2 1462.9,1212.7 1464.0,1212.2 1465.1,1211.7 1466.2,1211.2 1467.2,1210.7 1468.3,1210.2 1469.4,1209.7 1470.5,1209.1 1471.5,1208.6 1472.6,1208.1 1473.7,1207.5 1474.7,1207.0 1475.8,1206.4 1476.9,1205.9 1477.9,1205.3 1479.0,1204.7 1480.0,1204.2 1481.1,1203.6 1482.1,1203.0 1483.2,1202.5 1484.2,1201.9 1485.3,1201.3 1486.3,1200.7 1487.4,1200.1 1488.4,1199.6 1489.5,1199.0 1490.5,1198.4 1491.6,1197.8 1492.6,1197.2 1493.7,1196.6 1494.7,1196.0 1495.8,1195.5 1496.8,1194.9 1497.9,1194.3 1498.9,1193.7 1500.0,1193.1 1501.0,1192.6 1502.1,1192.0 1503.1,1191.4 1504.2,1190.8 1505.3,1190.3 1506.3,1189.7 1507.4,1189.2 1508.4,1188.6 1509.5,1188.1 1510.6,1187.5 1511.6,1187.0 1512.7,1186.4 1513.8,1185.9 1514.8,1185.4 1515.9,1184.9 1517.0,1184.3 1518.1,1183.8 1519.2,1183.3 1520.2,1182.8 1521.3,1182.4 1522.4,1181.9 1523.5,1181.4 1524.6,1180.9 1525.7,1180.5 1526.8,1180.0 1527.9,1179.6 1529.0,1179.1 1530.2,1178.7 1531.3,1178.3 1532.4,1177.9 1533.5,1177.5 1534.6,1177.0 1535.8,1176.6 1536.9,1176.3 1538.0,1175.9 1539.1,1175.5 1540.3,1175.1 1541.4,1174.7 1542.6,1174.4 1543.7,1174.0 1544.8,1173.7 1546.0,1173.3 1547.1,1173.0 1548.3,1172.6 1549.4,1172.3 1550.6,1172.0 1551.7,1171.6 1552.9,1171.3 1554.1,1171.0 1555.2,1170.7 1556.4,1170.4 1557.5,1170.1 1558.7,1169.8 1559.9,1169.5 1561.0,1169.2 1562.2,1168.9 1563.4,1168.6 1564.5,1168.4 1565.7,1168.1 1566.9,1167.8 1568.1,1167.5 1569.2,1167.3 1570.4,1167.0 1571.6,1166.8 1572.8,1166.5 1574.0,1166.3 1575.1,1166.0 1576.3,1165.8 1577.5,1165.5 1578.7,1165.3 1579.9,1165.1 1581.1,1164.8 1582.2,1164.6 1583.4,1164.4 1584.6,1164.1 1585.8,1163.9 1587.0,1163.7 1588.2,1163.5 1589.4,1163.3 1590.6,1163.1 1591.7,1162.8 1592.9,1162.6 1594.1,1162.4 1595.3,1162.2 1596.5,1162.0 1597.7,1161.8 1598.9,1161.6 1600.1,1161.4 1601.3,1161.2 1602.4,1161.0 1603.6,1160.8 1604.8,1160.6 1606.0,1160.4 1607.2,1160.2 1608.4,1160.0 1609.6,1159.8 1610.8,1159.6 1612.0,1159.4 1613.1,1159.2 1614.3,1159.0 1615.5,1158.8 1616.7,1158.7 1617.9,1158.5 1619.1,1158.3 1620.3,1158.1 1621.4,1157.9 1622.6,1157.7 1623.8,1157.5 1625.0,1157.3 1626.2,1157.2 1627.4,1157.0 1628.6,1156.8 1629.7,1156.6 1630.9,1156.4 1632.1,1156.2 1633.3,1156.1 1634.5,1155.9 1635.7,1155.7 1636.9,1155.5 1638.0,1155.3 1639.2,1155.2 1640.4,1155.0 1641.6,1154.8 1642.8,1154.6 1644.0,1154.4 1645.1,1154.3 1646.3,1154.1 1647.5,1153.9 1648.7,1153.7 1649.9,1153.5 1651.1,1153.4 1652.2,1153.2 1653.4,1153.0 1654.6,1152.8 1655.8,1152.7 1657.0,1152.5 1658.2,1152.3 1659.3,1152.1 1660.5,1151.9 1661.7,1151.8 1662.9,1151.6 1664.1,1151.4 1665.3,1151.2 1666.4,1151.1 1667.6,1150.9 1668.8,1150.7 1670.0,1150.5 1671.2,1150.3 1672.3,1150.2 1673.5,1150.0 1674.7,1149.8 1675.9,1149.6 1677.1,1149.4 1678.3,1149.3 1679.4,1149.1 1680.6,1148.9 1681.8,1148.7 1683.0,1148.5 1684.2,1148.4 1685.3,1148.2 1686.5,1148.0 1687.7,1147.8 1688.9,1147.6 1690.1,1147.4 1691.2,1147.2 1692.4,1147.1 1693.6,1146.9 1694.8,1146.7 1696.0,1146.5 1697.2,1146.3 1698.3,1146.1 1699.5,1145.9 1700.7,1145.7 1701.9,1145.5 1703.1,1145.3 1704.2,1145.1 1705.4,1145.0 1706.6,1144.8 1707.8,1144.6 1709.0,1144.4 1710.1,1144.2 1711.3,1144.0 1712.5,1143.8 1713.7,1143.6 1714.9,1143.4 1716.0,1143.2 1717.2,1142.9 1718.4,1142.7 1719.6,1142.5 1720.8,1142.3 1722.0,1142.1 1723.1,1141.9 1724.3,1141.7 1725.5,1141.5 1726.7,1141.3 1727.9,1141.0 1729.0,1140.8 1730.2,1140.6 1731.4,1140.4 1732.6,1140.2 1733.8,1139.9 1734.9,1139.7 1736.1,1139.5 1737.3,1139.3 1738.5,1139.0 1739.7,1138.8 1740.8,1138.6 1742.0,1138.3 1743.2,1138.1 1744.4,1137.9 1745.6,1137.6 1746.8,1137.4 1747.9,1137.2 1749.1,1136.9 1750.3,1136.7 1751.5,1136.4 1752.7,1136.2 1753.8,1135.9 1755.0,1135.7 1756.2,1135.4 1757.4,1135.2 1758.6,1134.9 1759.8,1134.6 1760.9,1134.4 1762.1,1134.1 1763.3,1133.8 1764.5,1133.6 1765.6,1133.3 1766.8,1133.0 1768.0,1132.7 1769.2,1132.5 1770.4,1132.2 1771.5,1131.9 1772.7,1131.6 1773.9,1131.3 1775.1,1131.0 1776.2,1130.7 1777.4,1130.4 1778.6,1130.1 1779.7,1129.8 1780.9,1129.5 1782.1,1129.2 1783.2,1128.9 1784.4,1128.5 1785.5,1128.2 1786.7,1127.9 1787.9,1127.6 1789.0,1127.2 1790.2,1126.9 1791.3,1126.5 1792.5,1126.2 1793.6,1125.8 1794.8,1125.5 1795.9,1125.1 1797.1,1124.7 1798.2,1124.4 1799.4,1124.0 1800.5,1123.6 1801.6,1123.2 1802.8,1122.8 1803.9,1122.4 1805.0,1122.0 1806.2,1121.6 1807.3,1121.2 1808.4,1120.8 1809.5,1120.4 1810.7,1120.0 1811.8,1119.5 1812.9,1119.1 1814.0,1118.7 1815.1,1118.2 1816.2,1117.8 1817.3,1117.3 1818.4,1116.9 1819.5,1116.4 1820.6,1115.9 1821.7,1115.4 1822.8,1115.0 1823.9,1114.5 1825.0,1114.0 1826.0,1113.5 1827.1,1113.0 1828.2,1112.4 1829.2,1111.9 1830.3,1111.4 1831.4,1110.9 1832.4,1110.3 1833.5,1109.8 1834.5,1109.2 1835.6,1108.7 1836.6,1108.1 1837.7,1107.5 1838.7,1106.9 1839.8,1106.3 1840.8,1105.7 1841.8,1105.1 1842.8,1104.5 1843.8,1103.9 1844.9,1103.3 1845.9,1102.7 1846.9,1102.0 1847.9,1101.4 1848.9,1100.7 1849.9,1100.1 1850.9,1099.4 1851.8,1098.7 1852.8,1098.0 1853.8,1097.3 1854.8,1096.6 1855.7,1095.9 1856.7,1095.2 1857.7,1094.5 1858.6,1093.8 1859.6,1093.0 1860.5,1092.3 1861.4,1091.5 1862.4,1090.8 1863.3,1090.0 1864.2,1089.2 1865.1,1088.4 1866.0,1087.6 1866.9,1086.8 1867.8,1086.0 1868.7,1085.2 1869.6,1084.4 1870.5,1083.5 1871.4,1082.7 1872.2,1081.8 1873.1,1081.0 1873.9,1080.1 1874.8,1079.3 1875.6,1078.4 1876.4,1077.5 1877.2,1076.6 1878.0,1075.7 1878.8,1074.8 1879.6,1073.9 1880.4,1073.0 1881.2,1072.0 1882.0,1071.1 1882.7,1070.2 1883.5,1069.2 1884.2,1068.3 1884.9,1067.3 1885.7,1066.4 1886.4,1065.4 1887.1,1064.4 1887.8,1063.4 1888.4,1062.4 1889.1,1061.4 1889.8,1060.4 1890.4,1059.4 1891.1,1058.4 1891.7,1057.4 1892.3,1056.4 1892.9,1055.3 1893.5,1054.3 1894.1,1053.3 1894.7,1052.2 1895.2,1051.2 1895.8,1050.1 1896.3,1049.0 1896.8,1048.0 1897.3,1046.9 1897.8,1045.8 1898.3,1044.7 1898.8,1043.6 1899.3,1042.5 1899.7,1041.4 1900.2,1040.3 1900.6,1039.2 1901.0,1038.1 1901.5,1037.0 1901.9,1035.8 1902.3,1034.7 1902.7,1033.6 1903.0,1032.5 1903.4,1031.3 1903.8,1030.2 1904.1,1029.0 1904.5,1027.9 1904.8,1026.7 1905.2,1025.6 1905.5,1024.4 1905.8,1023.3 1906.2,1022.1 1906.5,1021.0 1906.8,1019.8 1907.1,1018.6 1907.4,1017.5 1907.6,1016.3 1907.9,1015.1 1908.2,1014.0 1908.5,1012.8 1908.7,1011.6 1909.0,1010.4 1909.3,1009.3 1909.5,1008.1 1909.8,1006.9 1910.0,1005.7 1910.3,1004.5 1910.5,1003.4 1910.8,1002.2 1911.0,1001.0 1911.2,999.8 1911.5,998.7 1911.7,997.5 1911.9,996.3 1912.1,995.1 1912.4,993.9 1912.6,992.7 1912.8,991.6 1913.0,990.4 1913.2,989.2 1913.4,988.0 1913.6,986.8 1913.8,985.7 1914.0,984.5 1914.2,983.3 1914.4,982.1 1914.6,980.9 1914.8,979.7 1915.0,978.6 1915.2,977.4 1915.3,976.2 1915.5,975.0 1915.7,973.8 1915.9,972.6 1916.1,971.5 1916.2,970.3 1916.4,969.1 1916.6,967.9 1916.7,966.7 1916.9,965.5 1917.1,964.4 1917.2,963.2 1917.4,962.0 1917.5,960.8 1917.7,959.6 1917.8,958.4 1918.0,957.2 1918.1,956.0 1918.3,954.9 1918.4,953.7 1918.5,952.5 1918.7,951.3 1918.8,950.1 1919.0,948.9 1919.1,947.7 1919.2,946.5 1919.4,945.4 1919.5,944.2 1919.6,943.0 1919.7,941.8 1919.9,940.6 1920.0,939.4 1920.1,938.2 1920.2,937.0 1920.3,935.8 1920.5,934.6 1920.6,933.5 1920.7,932.3 1920.8,931.1 1920.9,929.9 1921.0,928.7 1921.1,927.5 1921.2,926.3 1921.3,925.1 1921.5,923.9 1921.6,922.7 1921.7,921.5 1921.8,920.3 1921.9,919.1 1922.0,917.9 1922.1,916.8 1922.2,915.6 1922.2,914.4 1922.3,913.2 1922.4,912.0 1922.5,910.8 1922.6,909.6 1922.7,908.4 1922.8,907.2 1922.9,906.0 1923.0,904.8 1923.1,903.6 1923.2,902.4 1923.2,901.2 1923.3,900.0 1923.4,898.8 1923.5,897.6 1923.6,896.4 1923.7,895.2 1923.7,894.0 1923.8,892.8 1923.9,891.6 1924.0,890.4 1924.1,889.2 1924.1,888.0 1924.2,886.8 1924.3,885.6 1924.4,884.4 1924.4,883.2 1924.5,882.0 1924.6,880.8 1924.7,879.6 1924.8,878.4 1924.8,877.2 1924.9,876.0 1925.0,874.8 1925.1,873.6 1925.1,872.4 1925.2,871.2 1925.3,870.0 1925.4,868.8 1925.4,867.5 1925.5,866.3 1925.6,865.1 1925.6,863.9 1925.7,862.7 1925.8,861.5 1925.9,860.3 1925.9,859.1 1926.0,857.9 1926.1,856.7 1926.1,855.5 1926.2,854.3 1926.3,853.1 1926.3,851.9 1926.4,850.7 1926.5,849.5 1926.6,848.2 1926.6,847.0 1926.7,845.8 1926.8,844.6 1926.8,843.4 1926.9,842.2 1927.0,841.0 1927.0,839.8 1927.1,838.6 1927.2,837.4 1927.2,836.2 1927.3,835.0 1927.3,833.7 1927.4,832.5 1927.5,831.3 1927.5,830.1 1927.6,828.9 1927.7,827.7 1927.7,826.5 1927.8,825.3 1927.9,824.1 1927.9,822.9 1928.0,821.7 1928.0,820.5 1928.1,819.3 1928.2,818.0 1928.2,816.8 1928.3,815.6 1928.3,814.4 1928.4,813.2 1928.5,812.0 1928.5,810.8 1928.6,809.6 1928.6,808.4 1928.7,807.2 1928.8,806.0 1928.8,804.8 1928.9,803.6 1928.9,802.4 1929.0,801.2 1929.1,800.0 1929.1,798.8 1929.2,797.6 1929.2,796.3 1929.3,795.1 1929.3,793.9 1929.4,792.7 1929.4,791.5 1929.5,790.3 1929.6,789.1 1929.6,787.9 1929.7,786.7 1929.7,785.5 1929.8,784.3 1929.8,783.1 1929.9,781.9 1929.9,780.7 1930.0,779.5 1930.0,778.3 1930.1,777.1 1930.1,775.9 1930.2,774.7 1930.2,773.5 1930.3,772.3 1930.3,771.1 1930.4,769.9 1930.4,768.7 1930.5,767.5 1930.5,766.4 1930.6,765.2 1930.6,764.0 1930.7,762.8 1930.7,761.6 1930.8,760.4 1930.8,759.2 1930.9,758.0 1930.9,756.8 1931.0,755.6 1931.0,754.4 1931.1,753.2 1931.1,752.0 1931.2,750.9 1931.2,749.7 1931.3,748.5 1931.3,747.3 1931.4,746.1 1931.4,744.9 1931.4,743.7 1931.5,742.6 1931.5,741.4 1931.6,740.2 1931.6,739.0 1931.7,737.8 1931.7,736.6 1931.8,735.5 1931.8,734.3 1931.8,733.1 1931.9,731.9 1931.9,730.7 1932.0,729.6 1932.0,728.4 1932.1,727.2 1932.1,726.0 1932.1,724.9 1932.2,723.7 1932.2,722.5 1932.3,721.3 1932.3,720.2 1932.3,719.0 1932.4,717.8 1932.4,716.7 1932.5,715.5 1932.5,714.3 1932.5,713.1 1932.6,712.0 1932.6,710.8 1932.7,709.6 1932.7,708.5 1932.8,707.3 1932.8,706.1 1932.8,704.9 1932.9,703.7 1932.9,702.6 1933.0,701.4 1933.0,700.2 1933.1,699.0 1933.2,697.8 1933.2,696.6 1933.3,695.4 1933.3,694.2 1933.4,693.0 1933.5,691.8 1933.5,690.6 1933.6,689.3 1933.7,688.1 1933.8,686.9 1933.8,685.7 1933.9,684.4 1934.0,683.2 1934.1,681.9 1934.2,680.7 1934.3,679.4 1934.4,678.1 1934.5,676.9 1934.6,675.6 1934.7,674.3 1934.8,673.0 1934.9,671.7 1935.1,670.4 1935.2,669.1 1935.3,667.7 1935.5,666.4 1935.6,665.0 1935.8,663.7 1935.9,662.3 1936.1,661.0 1936.2,659.6 1936.4,658.2 1936.6,656.8 1936.8,655.5 1937.0,654.2 1937.2,653.0 1937.4,652.0 1937.7,651.1 1938.0,650.4 1938.3,650.0 1938.7,649.8 1939.2,650.0 1939.6,650.4 1940.1,651.1 1940.6,652.0 1941.2,653.0 1941.7,654.3 1942.2,655.7 1942.7,657.2 1943.2,658.8 1943.6,660.4 1944.1,662.0 1944.5,663.5 1945.0,664.9 1945.4,666.2 1945.9,667.2 1946.5,668.0 1947.1,668.4 1947.7,668.5 1948.4,668.3 1949.2,667.7 1949.9,666.8 1950.6,665.7 1951.1,664.4 1951.6,663.0 1952.0,661.6 1952.2,660.2 1952.3,658.8 1952.3,657.5 1952.2,656.3 1952.0,655.0 1951.9,653.8 1951.8,652.6 1951.7,651.5 1951.6,650.3 1951.7,649.1 1951.7,647.9 1951.9,646.8 1952.0,645.6 1952.2,644.5 1952.4,643.3 1952.7,642.1 1953.0,641.0 1953.3,639.8 1953.5,638.7 1953.8,637.5 1954.1,636.4 1954.4,635.2 1954.7,634.0 1955.0,632.9 1955.3,631.7 1955.5,630.5 1955.8,629.4 1956.1,628.2 1956.3,627.0 1956.5,625.8 1956.8,624.7 1957.0,623.5 1957.2,622.3 1957.5,621.1 1957.7,620.0 1957.9,618.8 1958.1,617.6 1958.3,616.4 1958.5,615.2 1958.7,614.0 1958.9,612.8 1959.0,611.7 1959.2,610.5 1959.4,609.3 1959.6,608.1 1959.8,606.9 1959.9,605.7 1960.1,604.5 1960.3,603.3 1960.4,602.2 1960.6,601.0 1960.8,599.8 1960.9,598.6 1961.1,597.4 1961.3,596.2 1961.4,595.0 1961.6,593.8 1961.7,592.6 1961.9,591.4 1962.0,590.2 1962.2,589.1 1962.3,587.9 1962.5,586.7 1962.7,585.5 1962.8,584.3 1963.0,583.1 1963.1,581.9 1963.2,580.7 1963.4,579.5 1963.5,578.3 1963.7,577.1 1963.8,575.9 1964.0,574.8 1964.1,573.6 1964.2,572.4 1964.4,571.2 1964.5,570.0 1964.7,568.8 1964.8,567.6 1964.9,566.4 1965.1,565.2 1965.2,564.0 1965.3,562.8 1965.5,561.6 1965.6,560.4 1965.7,559.2 1965.9,558.1 1966.0,556.9 1966.1,555.7 1966.2,554.5 1966.4,553.3 1966.5,552.1 1966.6,550.9 1966.7,549.7 1966.9,548.5 1967.0,547.3 1967.1,546.1 1967.2,544.9 1967.3,543.7 1967.5,542.5 1967.6,541.3 1967.7,540.1 1967.8,538.9 1967.9,537.8 1968.0,536.6 1968.2,535.4 1968.3,534.2 1968.4,533.0 1968.5,531.8 1968.6,530.6 1968.7,529.4 1968.8,528.2 1968.9,527.0 1969.0,525.8 1969.1,524.6 1969.3,523.4 1969.4,522.2 1969.5,521.0 1969.6,519.8 1969.7,518.6 1969.8,517.4 1969.9,516.2 1970.0,515.0 1970.1,513.8 1970.2,512.6 1970.3,511.4 1970.4,510.2 1970.5,509.1 1970.6,507.9 1970.7,506.7 1970.8,505.5 1970.9,504.3 1971.0,503.1 1971.1,501.9 1971.2,500.7 1971.3,499.5 1971.4,498.3 1971.5,497.1 1971.5,495.9 1971.6,494.7 1971.7,493.5 1971.8,492.3 1971.9,491.1 1972.0,489.9 1972.1,488.7 1972.2,487.5 1972.3,486.3 1972.4,485.1 1972.5,483.9 1972.6,482.7 1972.6,481.5 1972.7,480.3 1972.8,479.1 1972.9,477.9 1973.0,476.7 1973.1,475.5 1973.2,474.3 1973.2,473.1 1973.3,471.9 1973.4,470.7 1973.5,469.5 1973.6,468.3 1973.7,467.1 1973.8,465.9 1973.8,464.7 1973.9,463.5 1974.0,462.3 1974.1,461.1 1974.2,459.9 1974.3,458.7 1974.3,457.5 1974.4,456.3 1974.5,455.1 1974.6,453.9 1974.7,452.7 1974.8,451.5 1974.8,450.3 1974.9,449.2 1975.0,448.0 1975.1,446.8 1975.2,445.6 1975.2,444.4 1975.3,443.2 1975.4,442.0 1975.5,440.8 1975.6,439.6 1975.6,438.4 1975.7,437.2 1975.8,436.0 1975.9,434.8 1976.0,433.6 1976.0,432.4 1976.1,431.2 1976.2,430.0 1976.3,428.8 1976.4,427.6 1976.4,426.4 1976.5,425.2 1976.6,424.0 1976.7,422.8 1976.7,421.6 1976.8,420.4 1976.9,419.2 1977.0,418.0 1977.1,416.8 1977.1,415.6 1977.2,414.4 1977.3,413.2 1977.4,412.0 1977.5,410.8 1977.6,409.6 1977.6,408.4 1977.7,407.2 1977.8,406.0 1977.9,404.8 1978.0,403.6 1978.0,402.4 1978.1,401.2 1978.2,400.0 1978.3,398.8 1978.4,397.6 1978.5,396.4 1978.5,395.2 1978.6,394.0 1978.7,392.8 1978.8,391.6 1978.9,390.5 1979.0,389.3 1979.0,388.1 1979.1,386.9 1979.2,385.7 1979.3,384.5 1979.4,383.3 1979.5,382.1 1979.6,380.9 1979.7,379.7 1979.7,378.5 1979.8,377.3 1979.9,376.1 1980.0,374.9 1980.1,373.7 1980.2,372.5 1980.3,371.3 1980.4,370.1 1980.5,368.9 1980.6,367.7 1980.7,366.5 1980.8,365.3 1980.9,364.1 1981.0,362.9 1981.1,361.7 1981.2,360.5 1981.3,359.2 1981.5,358.0 1981.6,356.8 1981.7,355.6 1981.8,354.4 1981.9,353.2 1982.0,352.0 1982.1,350.8 1982.2,349.6 1982.3,348.4 1982.4,347.2 1982.6,346.0 1982.7,344.9 1982.7,343.7 1982.8,342.6 1982.9,341.4 1983.0,340.3 1983.1,339.2 1983.2,338.1 1983.3,337.0 1983.4,335.9 1983.5,334.8 1983.6,333.6 1983.7,332.3 1983.9,331.0 1984.1,329.5 1984.3,328.0 1984.6,326.4 1985.0,324.9 1985.3,323.3 1985.8,321.9 1986.2,320.7 1986.8,319.6 1987.3,318.8 1987.8,318.4 1988.3,318.4 1988.7,318.8 1989.1,319.6 1989.4,320.6 1989.6,321.8 1989.9,323.1 1990.1,324.4 1990.3,325.6 1990.5,326.9 1990.6,328.2 1990.8,329.4 1990.9,330.7 1991.0,331.9 1991.1,333.2 1991.2,334.4 1991.3,335.6 1991.4,336.9 1991.4,338.1 1991.5,339.3 1991.5,340.6 1991.6,341.8 1991.6,343.0 1991.7,344.2 1991.7,345.4 1991.7,346.7 1991.7,347.9 1991.8,349.1 1991.8,350.3 1991.8,351.5 1991.8,352.7 1991.9,353.9 1991.9,355.1 1991.9,356.3 1992.0,357.5 1992.0,358.7 1992.1,359.9 1992.1,361.1 1992.1,362.3 1992.2,363.5 1992.2,364.7 1992.3,365.9 1992.3,367.1 1992.3,368.3 1992.4,369.5 1992.4,370.7 1992.5,371.9 1992.5,373.1 1992.6,374.3 1992.6,375.5 1992.6,376.7 1992.7,377.9 1992.7,379.1 1992.8,380.3 1992.8,381.5 1992.8,382.7 1992.9,383.9 1992.9,385.1 1993.0,386.3 1993.0,387.5 1993.0,388.7 1993.1,389.9 1993.1,391.1 1993.2,392.3 1993.2,393.5 1993.2,394.7 1993.3,395.9 1993.3,397.1 1993.4,398.3 1993.4,399.5 1993.4,400.7 1993.5,401.9 1993.5,403.1 1993.6,404.3 1993.6,405.5 1993.6,406.7 1993.7,407.9 1993.7,409.1 1993.7,410.3 1993.8,411.5 1993.8,412.7 1993.9,413.9 1993.9,415.1 1993.9,416.3 1994.0,417.5 1994.0,418.7 1994.0,419.9 1994.1,421.1 1994.1,422.3 1994.2,423.5 1994.2,424.7 1994.2,425.9 1994.3,427.1 1994.3,428.3 1994.3,429.5 1994.4,430.7 1994.4,431.9 1994.4,433.1 1994.5,434.3 1994.5,435.5 1994.6,436.7 1994.6,437.9 1994.6,439.1 1994.7,440.3 1994.7,441.5 1994.7,442.7 1994.8,443.9 1994.8,445.1 1994.8,446.3 1994.9,447.5 1994.9,448.7 1994.9,449.9 1995.0,451.1 1995.0,452.3 1995.0,453.5 1995.1,454.7 1995.1,455.9 1995.1,457.1 1995.2,458.3 1995.2,459.5 1995.2,460.7 1995.3,461.9 1995.3,463.1 1995.3,464.3 1995.4,465.5 1995.4,466.7 1995.4,467.9 1995.5,469.1 1995.5,470.3 1995.5,471.5 1995.6,472.7 1995.6,473.9 1995.6,475.1 1995.7,476.3 1995.7,477.5 1995.7,478.7 1995.8,479.9 1995.8,481.1 1995.8,482.3 1995.8,483.5 1995.9,484.7 1995.9,485.9 1995.9,487.1 1996.0,488.3 1996.0,489.5 1996.0,490.7 1996.1,491.9 1996.1,493.1 1996.1,494.3 1996.1,495.5 1996.2,496.7 1996.2,497.9 1996.2,499.1 1996.3,500.3 1996.3,501.5 1996.3,502.7 1996.4,503.9 1996.4,505.1 1996.4,506.3 1996.4,507.5 1996.5,508.7 1996.5,509.9 1996.5,511.1 1996.6,512.3 1996.6,513.5 1996.6,514.7 1996.6,515.9 1996.7,517.1 1996.7,518.3 1996.7,519.5 1996.8,520.7 1996.8,521.9 1996.8,523.1 1996.8,524.3 1996.9,525.5 1996.9,526.7 1996.9,527.9 1996.9,529.1 1997.0,530.3 1997.0,531.5 1997.0,532.7 1997.0,533.9 1997.1,535.1 1997.1,536.3 1997.1,537.5 1997.2,538.7 1997.2,539.9 1997.2,541.1 1997.2,542.3 1997.3,543.5 1997.3,544.7 1997.3,545.9 1997.3,547.1 1997.4,548.3 1997.4,549.5 1997.4,550.7 1997.4,551.9 1997.5,553.1 1997.5,554.3 1997.5,555.5 1997.5,556.7 1997.6,557.9 1997.6,559.1 1997.6,560.3 1997.6,561.5 1997.6,562.7 1997.7,563.9 1997.7,565.1 1997.7,566.3 1997.7,567.5 1997.8,568.7 1997.8,569.9 1997.8,571.1 1997.8,572.3 1997.9,573.5 1997.9,574.7 1997.9,575.9 1997.9,577.1 1997.9,578.3 1998.0,579.5 1998.0,580.7 1998.0,581.9 1998.0,583.1 1998.1,584.3 1998.1,585.5 1998.1,586.7 1998.1,587.9 1998.1,589.1 1998.2,590.3 1998.2,591.5 1998.2,592.7 1998.2,593.9 1998.3,595.1 1998.3,596.3 1998.3,597.5 1998.3,598.7 1998.3,599.9 1998.4,601.1 1998.4,602.3 1998.4,603.5 1998.4,604.7 1998.4,605.9 1998.5,607.1 1998.5,608.3 1998.5,609.5 1998.5,610.7 1998.5,611.9 1998.6,613.1 1998.6,614.3 1998.6,615.5 1998.6,616.7 1998.6,617.9 1998.7,619.1 1998.7,620.3 1998.7,621.5 1998.7,622.7 1998.7,623.9 1998.8,625.1 1998.8,626.3 1998.8,627.5 1998.8,628.7 1998.8,629.9 1998.8,631.1 1998.9,632.3 1998.9,633.5 1998.9,634.7 1998.9,635.9 1998.9,637.1 1999.0,638.3 1999.0,639.6 1999.0,640.8 1999.0,642.0 1999.0,643.2 1999.0,644.4 1999.1,645.6 1999.1,646.8 1999.1,648.0 1999.1,649.2 1999.1,650.4 1999.2,651.6 1999.2,652.8 1999.2,654.0 1999.2,655.2 1999.2,656.4 1999.2,657.6 1999.3,658.8 1999.3,660.0 1999.3,661.2 1999.3,662.4 1999.3,663.6 1999.4,664.8 1999.4,666.0 1999.4,667.2 1999.4,668.4 1999.4,669.6 1999.4,670.8 1999.5,672.0 1999.5,673.2 1999.5,674.4 1999.5,675.6 1999.5,676.8 1999.5,678.0 1999.6,679.2 1999.6,680.4 1999.6,681.6 1999.6,682.8 1999.6,684.0 1999.7,685.2 1999.7,686.4 1999.7,687.6 1999.7,688.8 1999.7,690.0 1999.7,691.2 1999.8,692.5 1999.8,693.7 1999.8,694.9 1999.8,696.1 1999.8,697.3 1999.8,698.5 1999.9,699.7 1999.9,700.9 1999.9,702.1 1999.9,703.3 1999.9,704.5 1999.9,705.7 2000.0,706.9 2000.0,708.1 2000.0,709.3 2000.0,710.5 2000.0,711.7 2000.1,712.9 2000.1,714.1 2000.1,715.3 2000.1,716.5 2000.1,717.7 2000.1,718.9 2000.2,720.1 2000.2,721.3 2000.2,722.5 2000.2,723.7 2000.2,724.9 2000.2,726.1 2000.3,727.3 2000.3,728.5 2000.3,729.7 2000.3,730.9 2000.3,732.1 2000.4,733.3 2000.4,734.5 2000.4,735.7 2000.4,736.9 2000.4,738.1 2000.4,739.4 2000.5,740.6 2000.5,741.8 2000.5,743.0 2000.5,744.2 2000.5,745.4 2000.6,746.6 2000.6,747.8 2000.6,749.0 2000.6,750.2 2000.6,751.4 2000.6,752.6 2000.7,753.8 2000.7,755.0 2000.7,756.2 2000.7,757.4 2000.7,758.6 2000.8,759.8 2000.8,761.0 2000.8,762.2 2000.8,763.4 2000.8,764.6 2000.9,765.8 2000.9,767.0 2000.9,768.2 2000.9,769.4 2000.9,770.6 2001.0,771.8 2001.0,773.0 2001.0,774.2 2001.0,775.4 2001.0,776.6 2001.1,777.8 2001.1,779.0 2001.1,780.2 2001.1,781.4 2001.1,782.6 2001.2,783.8 2001.2,785.0 2001.2,786.2 2001.2,787.4 2001.2,788.6 2001.3,789.8 2001.3,791.0 2001.3,792.2 2001.3,793.5 2001.4,794.7 2001.4,795.9 2001.4,797.1 2001.4,798.3 2001.4,799.5 2001.5,800.7 2001.5,801.9 2001.5,803.1 2001.5,804.3 2001.6,805.5 2001.6,806.7 2001.6,807.9 2001.6,809.1 2001.6,810.3 2001.7,811.5 2001.7,812.7 2001.7,813.9 2001.7,815.1 2001.8,816.3 2001.8,817.5 2001.8,818.7 2001.8,819.9 2001.9,821.1 2001.9,822.3 2001.9,823.5 2001.9,824.7 2002.0,825.9 2002.0,827.1 2002.0,828.3 2002.0,829.5 2002.1,830.7 2002.1,831.9 2002.1,833.1 2002.1,834.3 2002.2,835.5 2002.2,836.7 2002.2,837.9 2002.2,839.1 2002.3,840.3 2002.3,841.5 2002.3,842.7 2002.3,843.9 2002.4,845.1 2002.4,846.3 2002.4,847.5 2002.4,848.7 2002.5,849.9 2002.5,851.1 2002.5,852.3 2002.6,853.5 2002.6,854.7 2002.6,855.9 2002.6,857.1 2002.7,858.3 2002.7,859.5 2002.7,860.7 2002.8,861.9 2002.8,863.1 2002.8,864.3 2002.8,865.5 2002.9,866.7 2002.9,867.9 2002.9,869.1 2003.0,870.3 2003.0,871.5 2003.0,872.7 2003.0,873.9 2003.1,875.1 2003.1,876.3 2003.1,877.5 2003.2,878.7 2003.2,879.9 2003.2,881.1 2003.3,882.3 2003.3,883.5 2003.3,884.7 2003.4,885.9 2003.4,887.1 2003.4,888.3 2003.5,889.5 2003.5,890.7 2003.5,891.9 2003.6,893.1 2003.6,894.3 2003.6,895.5 2003.7,896.7 2003.7,897.9 2003.7,899.1 2003.8,900.3 2003.8,901.5 2003.8,902.7 2003.9,903.9 2003.9,905.1 2003.9,906.3 2004.0,907.5 2004.0,908.7 2004.1,909.9 2004.1,911.1 2004.1,912.3 2004.2,913.5 2004.2,914.7 2004.2,915.9 2004.3,917.1 2004.3,918.3 2004.3,919.5 2004.4,920.7 2004.4,921.9 2004.5,923.1 2004.5,924.3 2004.5,925.5 2004.6,926.7 2004.6,927.9 2004.7,929.1 2004.7,930.2 2004.7,931.4 2004.8,932.6 2004.8,933.8 2004.9,935.0 2004.9,936.2 2004.9,937.4 2005.0,938.6 2005.0,939.8 2005.1,941.0 2005.1,942.2 2005.2,943.4 2005.2,944.6 2005.2,945.8 2005.3,947.0 2005.3,948.2 2005.4,949.4 2005.4,950.6 2005.5,951.8 2005.5,953.0 2005.5,954.2 2005.6,955.4 2005.6,956.6 2005.7,957.8 2005.7,959.0 2005.8,960.2 2005.8,961.4 2005.9,962.6 2005.9,963.8 2006.0,965.0 2006.0,966.1 2006.1,967.3 2006.1,968.5 2006.2,969.7 2006.2,970.9 2006.2,972.1 2006.3,973.3 2006.3,974.5 2006.4,975.7 2006.4,976.9 2006.5,978.1 2006.5,979.3 2006.6,980.5 2006.6,981.7 2006.7,982.9 2006.7,984.1 2006.8,985.3 2006.9,986.5 2006.9,987.7 2007.0,988.9 2007.0,990.0 2007.1,991.2 2007.1,992.4 2007.2,993.6 2007.2,994.8 2007.3,996.0 2007.3,997.2 2007.4,998.4 2007.4,999.6 2007.5,1000.8 2007.5,1002.0 2007.6,1003.2 2007.6,1004.4 2007.7,1005.6 2007.8,1006.8 2007.8,1008.0 2007.9,1009.2 2007.9,1010.4 2008.0,1011.6 2008.0,1012.8 2008.1,1013.9 2008.1,1015.1 2008.2,1016.3 2008.3,1017.5 2008.3,1018.7 2008.4,1019.9 2008.4,1021.1 2008.5,1022.3 2008.5,1023.5 2008.6,1024.7 2008.7,1025.9 2008.7,1027.1 2008.8,1028.3 2008.8,1029.5 2008.9,1030.7 2008.9,1031.9 2009.0,1033.1 2009.1,1034.3 2009.1,1035.5 2009.2,1036.7 2009.2,1037.9 2009.3,1039.1 2009.3,1040.3 2009.4,1041.5 2009.5,1042.7 2009.5,1043.9 2009.6,1045.1 2009.6,1046.3 2009.7,1047.5 2009.7,1048.7 2009.8,1049.9 2009.9,1051.1 2009.9,1052.3 2010.0,1053.5 2010.0,1054.7 2010.1,1055.9 2010.1,1057.1 2010.2,1058.3 2010.3,1059.5 2010.3,1060.7 2010.4,1061.9 2010.4,1063.1 2010.5,1064.3 2010.5,1065.5 2010.6,1066.7 2010.6,1067.9 2010.7,1069.1 2010.8,1070.3 2010.8,1071.5 2010.9,1072.7 2010.9,1073.9 2011.0,1075.1 2011.0,1076.3 2011.1,1077.5 2011.2,1078.7 2011.2,1079.9 2011.3,1081.1 2011.3,1082.3 2011.4,1083.6 2011.4,1084.8 2011.5,1086.0 2011.5,1087.2 2011.6,1088.4 2011.6,1089.6 2011.7,1090.8 2011.8,1092.0 2011.8,1093.2 2011.9,1094.4 2011.9,1095.6 2012.0,1096.9 2012.0,1098.1 2012.1,1099.3 2012.1,1100.5 2012.2,1101.7 2012.2,1102.9 2012.3,1104.1 2012.3,1105.3 2012.4,1106.6 2012.4,1107.8 2012.5,1109.0 2012.5,1110.2 2012.6,1111.4 2012.6,1112.6 2012.7,1113.9 2012.7,1115.1 2012.8,1116.3 2012.8,1117.5 2012.9,1118.7 2012.9,1119.9 2013.0,1121.2 2013.0,1122.4 2013.1,1123.6 2013.1,1124.8 2013.2,1126.0 2013.2,1127.3 2013.3,1128.5 2013.3,1129.7 2013.4,1130.9 2013.4,1132.2 2013.5,1133.4 2013.5,1134.6 2013.6,1135.8 2013.6,1137.0 2013.7,1138.3 2013.8,1139.5 2013.8,1140.7 2013.9,1141.9 2014.0,1143.1 2014.1,1144.3 2014.1,1145.6 2014.2,1146.8 2014.3,1148.0 2014.4,1149.2 2014.5,1150.4 2014.6,1151.6 2014.7,1152.8 2014.8,1154.0 2015.0,1155.2 2015.1,1156.4 2015.2,1157.6 2015.4,1158.8 2015.5,1160.0 2015.7,1161.2 2015.8,1162.3 2016.0,1163.5 2016.2,1164.7 2016.4,1165.9 2016.6,1167.1 2016.8,1168.2 2017.0,1169.4 2017.2,1170.5 2017.5,1171.7 2017.7,1172.9 2018.0,1174.0 2018.2,1175.1 2018.5,1176.3 2018.8,1177.4 2019.1,1178.6 2019.4,1179.7 2019.7,1180.8 2020.1,1181.9 2020.4,1183.0 2020.8,1184.2 2021.1,1185.3 2021.5,1186.4 2021.9,1187.5 2022.3,1188.5 2022.8,1189.6 2023.2,1190.7 2023.7,1191.8 2024.1,1192.8 2024.6,1193.9 2025.1,1195.0 2025.7,1196.0 2026.2,1197.0 2026.7,1198.1 2027.3,1199.1 2027.9,1200.1 2028.5,1201.1 2029.1,1202.1 2029.7,1203.1 2030.4,1204.1 2031.1,1205.1 2031.8,1206.0 2032.5,1206.9 2033.2,1207.8 2034.0,1208.7 2034.8,1209.6 2035.6,1210.4 2036.4,1211.2 2037.3,1211.9 2038.1,1212.7 2039.0,1213.4 2040.0,1214.1 2040.9,1214.7 2041.9,1215.3 2042.9,1215.8 2044.0,1216.4 2045.0,1216.9 2046.1,1217.3 2047.2,1217.8 2048.3,1218.2 2049.4,1218.6 2050.6,1219.0 2051.7,1219.3 2052.9,1219.6 2054.1,1219.9 2055.3,1220.2 2056.5,1220.5 2057.7,1220.7 2058.9,1221.0 2060.2,1221.2 2061.4,1221.4 2062.7,1221.6 2064.0,1221.8 2065.2,1221.9 2066.5,1222.1 2067.8,1222.3 2069.1,1222.4 2070.3,1222.6 2071.6,1222.7 2072.9,1222.9 2074.2,1223.0 2075.4,1223.2 2076.7,1223.3 2078.0,1223.5 2079.2,1223.6 2080.5,1223.8 2081.7,1224.0 2082.9,1224.2 2084.1,1224.4 2085.4,1224.5 2086.6,1224.7 2087.8,1224.9 2089.0,1225.2 2090.2,1225.4 2091.4,1225.6 2092.5,1225.8 2093.7,1226.0 2094.9,1226.3 2096.1,1226.5 2097.2,1226.7 2098.4,1227.0 2099.5,1227.2 2100.7,1227.5 2101.8,1227.7 2103.0,1228.0 2104.1,1228.2 2105.3,1228.5 2106.4,1228.7 2107.5,1229.0 2108.7,1229.2 2109.8,1229.5 2111.0,1229.7 2112.1,1230.0 2113.2,1230.3 2114.4,1230.5 2115.5,1230.8 2116.6,1231.0 2117.8,1231.3 2118.9,1231.5 2120.0,1231.8 2121.2,1232.0 2122.3,1232.3 2123.5,1232.5 2124.6,1232.7 2125.7,1233.0 2126.9,1233.2 2128.1,1233.4 2129.2,1233.7 2130.4,1233.9 2131.5,1234.1 2132.7,1234.3 2133.9,1234.5 2135.1,1234.7 2136.3,1234.9 2137.4,1235.1 2138.6,1235.3 2139.8,1235.5 2141.1,1235.6 2142.3,1235.8 2143.5,1235.9 2144.7,1236.1 2146.0,1236.2 2147.2,1236.4 2148.5,1236.5 2149.7,1236.6 2151.0,1236.7' stroke='#000' stroke-width='3.9' fill='none' stroke-linejoin='round'/>
<path d='M1603.2,707.4L2001.7,943.6' stroke='#000' stroke-width='1.5' stroke-dasharray='13.6 16.4' fill='none'/>
<path d='M2021.3,946 L2031.2,960.8 L2013,960 Z' fill='#000'/>
<text x='159.0' y='124.0' font-size='72.5' >C)</text>
<text x='1287.0' y='133.0' font-size='72.5' >D)</text>
<text x='164.0' y='698.6' font-size='72.5' >R60</text>
<text x='154.0' y='1255.8' font-size='72.5' >R20</text>
<text x='1268.8 1303.0 1339.4 1367.6' y='867.3' font-size='72.5'>65°C</text>
<text x='1264.4 1300.5 1335.9 1371.0 1399.6' y='984.8' font-size='72.5'>100°C</text>
<text x='1261.3 1296.0 1332.9 1368.0 1396.7' y='1116.0' font-size='72.5'>130°C</text>
<text x='1257.9 1294.9 1329.5 1364.6 1392.8' y='1221.0' font-size='72.5'>180°C</text>
<text x='217.5' y='1444.0' font-size='72.5' text-anchor='middle'>0</text>
<text x='396.5' y='1444.0' font-size='72.5' text-anchor='middle'>40</text>
<text x='574.5' y='1444.0' font-size='72.5' text-anchor='middle'>80</text>
<text x='752.5' y='1444.0' font-size='72.5' text-anchor='middle'>120</text>
<text x='930.5' y='1444.0' font-size='72.5' text-anchor='middle'>160</text>
<text x='1341.5' y='1446.5' font-size='71.5' text-anchor='middle'>0</text>
<text x='1517.5' y='1446.5' font-size='71.5' text-anchor='middle'>40</text>
<text x='1693.5' y='1446.5' font-size='71.5' text-anchor='middle'>80</text>
<text x='1868.5' y='1446.5' font-size='71.5' text-anchor='middle'>120</text>
<text x='2043.5' y='1446.5' font-size='71.5' text-anchor='middle'>160</text>
<text x='331.2 374.8 406.6 461.7 497.8 529.9 554.1 585.7 605.6 640.8 664.8 674.8 714.5 738.2 767.3 814.5' y='1524.7' font-size='72.5'>Temperature (°C)</text>
<text x='1453.7 1496.9 1527.8 1582.1 1618.1 1649.1 1673.1 1704.2 1723.5 1758.4 1781.9 1791.9 1830.7 1853.8 1882.1 1928.5' y='1525.0' font-size='71.0'>Temperature (°C)</text>
<text transform='translate(66.8,814.7) rotate(-90)' font-size='72.3'>Endo up</text>
<text transform='translate(1192.8,827.8) rotate(-90)' font-size='71.2'>Endo up</text>
</svg>
</body></html>
